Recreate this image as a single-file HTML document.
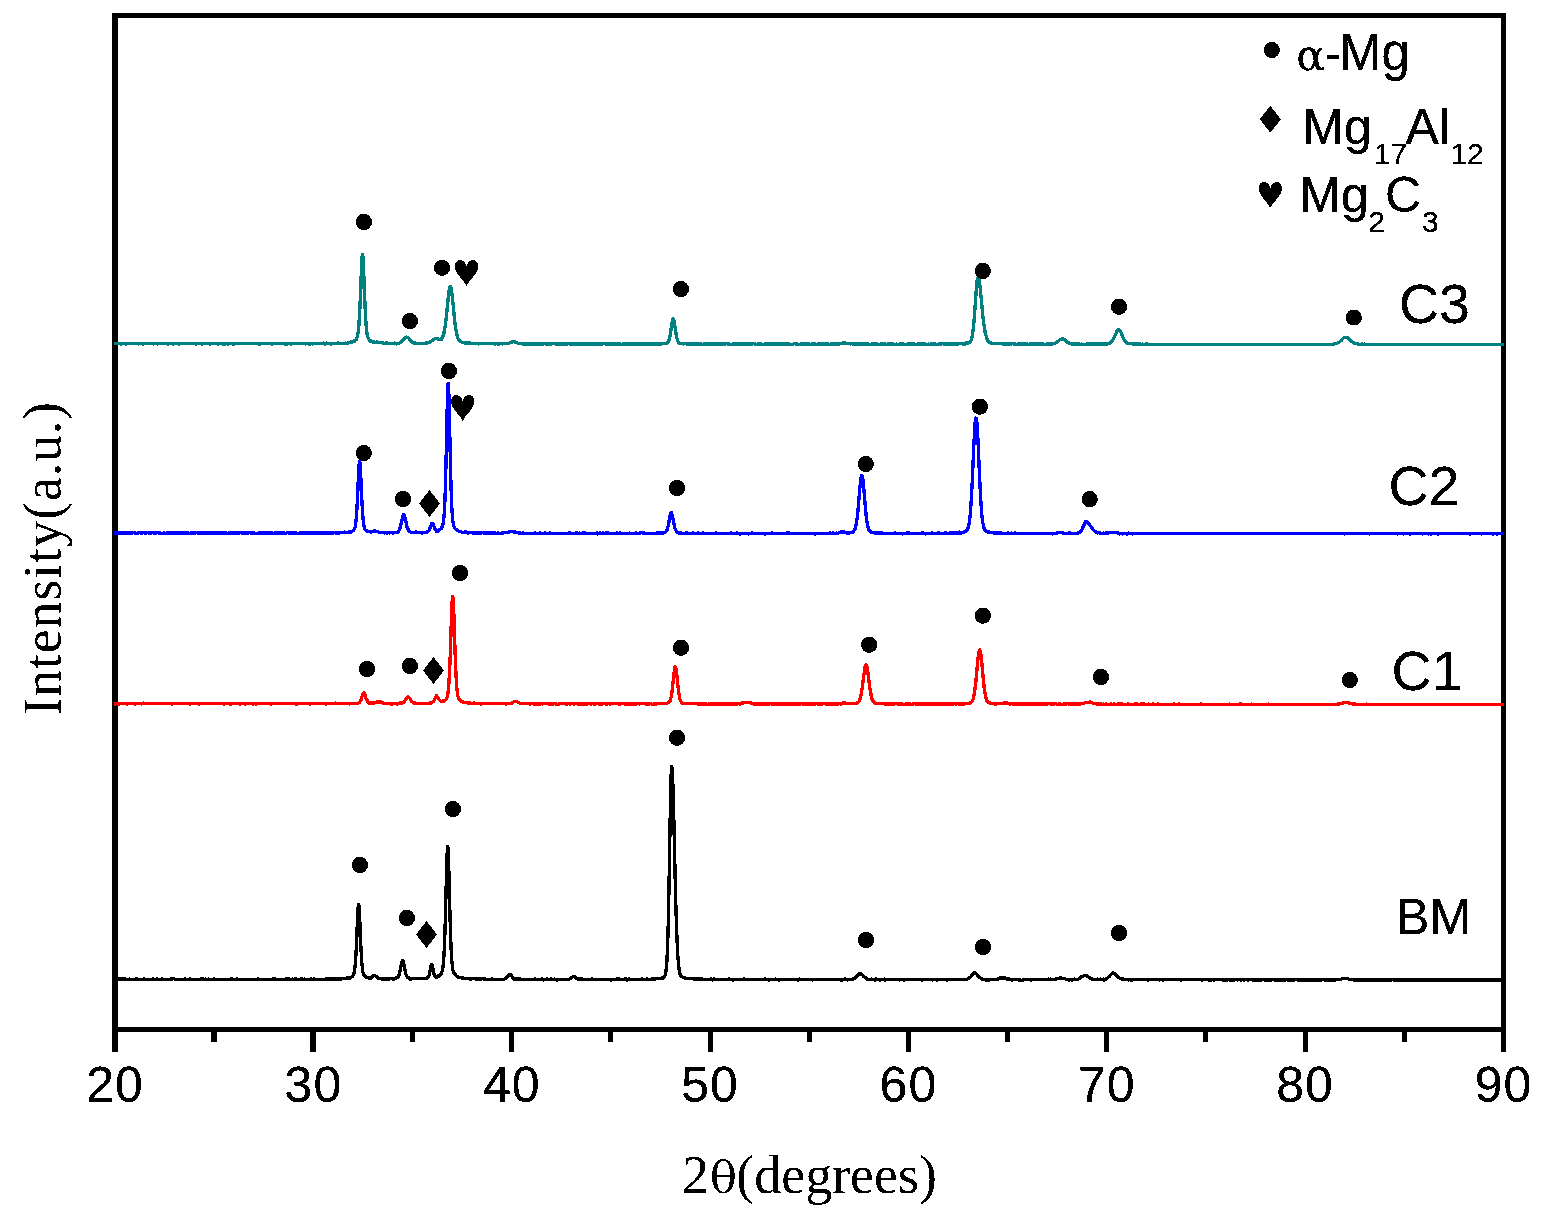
<!DOCTYPE html>
<html lang="en"><head><meta charset="utf-8"><title>XRD patterns</title>
<style>html,body{margin:0;padding:0;background:#fff;overflow:hidden}svg{display:block}.s{font-family:"Liberation Sans",sans-serif;fill:#000}.r{font-family:"Liberation Serif",serif;fill:#000}.g{font-family:"DejaVu Serif","Liberation Serif",serif;fill:#000}</style></head>
<body><svg width="1552" height="1219" viewBox="0 0 1552 1219">
<rect width="1552" height="1219" fill="#fff"/>
<defs><filter id="px" filterUnits="userSpaceOnUse" x="0" y="0" width="1552" height="1219" color-interpolation-filters="sRGB"><feComponentTransfer><feFuncA type="discrete" tableValues="0 1 1"/></feComponentTransfer></filter></defs>
<defs><filter id="px2" filterUnits="userSpaceOnUse" x="0" y="0" width="1552" height="1219" color-interpolation-filters="sRGB"><feComponentTransfer><feFuncA type="discrete" tableValues="0 1"/></feComponentTransfer></filter></defs>
<g fill="#000">
<rect x="112" y="13" width="6" height="1039"/>
<rect x="1501" y="13" width="5" height="1039"/>
<rect x="112" y="13" width="1394" height="5"/>
<rect x="112" y="1027" width="1394" height="5"/>
<rect x="211" y="1030" width="6" height="12"/>
<rect x="310" y="1030" width="6" height="22"/>
<rect x="410" y="1030" width="5" height="12"/>
<rect x="509" y="1030" width="5" height="22"/>
<rect x="608" y="1030" width="5" height="12"/>
<rect x="708" y="1030" width="5" height="22"/>
<rect x="807" y="1030" width="5" height="12"/>
<rect x="906" y="1030" width="5" height="22"/>
<rect x="1005" y="1030" width="5" height="12"/>
<rect x="1104" y="1030" width="5" height="22"/>
<rect x="1203" y="1030" width="5" height="12"/>
<rect x="1303" y="1030" width="5" height="22"/>
<rect x="1402" y="1030" width="5" height="12"/>
</g>
<g fill="none" stroke-width="3.0" stroke-linejoin="round" stroke-linecap="butt" filter="url(#px)">
<path stroke="#000000" d="M114 979L115 979.1L116 979.2L117 979.2L118 979.2L119 979.2L120 978.7L121 979.1L122 979.2L123 979.2L124 978.7L125 979.2L126 979.2L127 979.2L128 979.2L129 979.2L130 979.1L131 979.6L132 979.2L133 979.3L134 979.3L135 979.1L136 979.3L137 978.6L138 979.8L139 979.3L140 979.3L141 979.3L142 979.2L143 979.3L144 978.8L145 979.3L146 979.3L147 979.3L148 979.2L149 979.3L150 979.4L151 979.2L152 979.2L153 978.9L154 979.6L155 979.2L156 979.2L157 978.9L158 979.3L159 979.3L160 979.3L161 979.6L162 978.7L163 979.3L164 979.3L165 979.8L166 979.2L167 979.6L168 979.2L169 979.3L170 979.1L171 978.9L172 979.2L173 978.7L174 978.9L175 979.2L176 979.3L177 979.3L178 979.3L179 979.3L180 979.2L181 979.2L182 979.3L183 979.2L184 979.3L185 978.7L186 979.3L187 979.3L188 979.3L189 979.2L190 979.1L191 979.2L192 979.3L193 979.1L194 979.3L195 979.2L196 979.2L197 979.3L198 979.3L199 979.2L200 979.2L201 979.1L202 978.9L203 978.9L204 979.3L205 979.1L206 979.1L207 979.6L208 979.1L209 979.2L210 979.2L211 979.2L212 979.2L213 979.2L214 978.8L215 979.2L216 979.3L217 979.3L218 979.2L219 979.3L220 979.3L221 979.7L222 979.2L223 979.2L224 979.2L225 979.4L226 979.2L227 979.2L228 979.2L229 979.2L230 979.6L231 978.7L232 978.8L233 979.3L234 979.1L235 979.6L236 979.3L237 978.9L238 979.2L239 979.2L240 979.2L241 979.3L242 979.6L243 979.1L244 979.3L245 979.2L246 979.3L247 979.1L248 979.3L249 979.4L250 979.3L251 979.2L252 979.4L253 979.3L254 979.4L255 979.2L256 979.7L257 979.2L258 978.8L259 979.8L260 979.4L261 979.4L262 979.3L263 979.1L264 979.3L265 979.3L266 979.2L267 979.2L268 979.3L269 979.3L270 979.4L271 979.2L272 979.7L273 978.8L274 979.2L275 978.8L276 979.3L277 979.2L278 979.3L279 979.3L280 979.3L281 979.2L282 979.8L283 979.3L284 979.7L285 979.2L286 979L287 978.8L288 979.2L289 978.7L290 979.3L291 979.2L292 979.8L293 979.1L294 979.3L295 978.7L296 979.2L297 979.3L298 979.4L299 979.2L300 979.3L301 978.7L302 978.9L303 979.6L304 979.1L305 979.7L306 979.3L307 979.8L308 979.3L309 979.3L310 979.2L311 978.9L312 979.2L313 979.3L314 978.9L315 979.2L316 979.3L317 979.5L318 979.7L319 979.2L320 979.2L321 979.2L322 979.2L323 979.3L324 979.2L325 979.2L326 978.6L327 979.2L328 979.1L329 978.9L330 979.1L331 979.2L332 979.1L333 979L334 979.2L335 979.1L336 978.9L337 979.1L338 979L339 979.6L340 979L341 978.9L342 978.9L342.25 978.8L342.5 978.8L342.75 978.8L343 978.4L343.25 978.3L343.5 978.3L343.75 978.3L344 978.8L344.25 978.8L344.5 978.7L344.75 978.7L345 978.6L345.25 978.6L345.5 978.5L345.75 978.5L346 978.4L346.25 978.4L346.5 978.3L346.75 978.3L347 977.9L347.25 977.8L347.5 977.8L347.75 977.7L348 978.2L348.25 978.1L348.5 978.1L348.75 978L349 978.3L349.25 978.2L349.5 978.1L349.75 978.1L350 977.7L350.25 977.6L350.5 977.5L350.75 977.4L351 977.2L351.25 977.1L351.5 976.9L351.75 976.8L352 976.7L352.25 976.5L352.5 976.2L352.75 975.9L353 975.5L353.25 975.1L353.5 974.5L353.75 973.8L354 972.9L354.25 971.8L354.5 970.5L354.75 968.7L355 966.6L355.25 964L355.5 960.9L355.75 957.2L356 953L356.25 948.3L356.5 942.9L356.75 937.2L357 931.3L357.25 925.2L357.5 919.3L357.75 913.9L358 909.4L358.25 906.2L358.5 904.6L358.6 904.4L358.75 904.7L359 906.6L359.25 910.1L359.5 914.8L359.75 920.3L360 926.3L360.25 932.4L360.5 938.4L360.75 944L361 949.3L361.25 953.9L361.5 958.1L361.75 961.6L362 964.7L362.25 967.2L362.5 969.2L362.75 970.8L363 972L363.25 973L363.5 973.9L363.75 974.5L364 975.1L364.25 975.5L364.5 975.9L364.75 976.2L365 976.4L365.25 976.6L365.5 976.8L365.75 976.9L366 977.1L366.25 977.2L366.5 977.3L366.75 977.4L367 977.5L367.25 977.6L367.5 977.6L367.75 977.7L368 977.7L368.25 977.8L368.5 977.8L368.75 977.9L369 978.5L369.25 978.5L369.5 978.5L369.75 978.5L370 978.2L370.25 978.2L370.5 978.1L370.75 978L371 977.5L371.25 977.4L371.5 977.2L371.75 977.1L372 977L372.25 976.8L372.5 976.6L372.75 976.4L373 976L373.25 975.8L373.5 975.6L373.75 975.4L374 975.4L374.25 975.4L374.5 975.3L374.6 975.3L374.75 975.3L375 975.6L376 976.1L377 977.5L378 977.5L379 978.9L380 978.7L381 978.9L382 978.9L383 978.8L384 978.9L384.25 978.9L384.75 978.9L385 979.5L385.25 979.5L385.75 979.5L386 978.9L386.25 978.9L386.75 978.9L387 978.9L387.25 978.9L387.75 978.9L388 979L388.25 979L388.75 979L389 978.8L389.25 978.8L389.75 978.8L390 978.4L390.25 978.4L390.75 978.4L391 978.8L391.25 978.7L391.75 978.7L392 978.3L392.25 978.3L392.75 978.3L393 979.2L393.25 979.1L393.75 979.1L394 978.7L394.25 978.7L394.75 978.6L395 977.9L395.25 977.9L395.75 977.8L396 977.8L396.25 977.7L396.75 977.5L397 977.9L397.25 977.8L397.75 977.3L398 977L398.25 976.6L398.75 975.6L399 975L399.25 974.2L399.75 972.3L400 971.2L400.25 970L400.75 967.4L401 966L401.25 964.6L401.75 962.2L402 961.3L402.25 960.6L402.6 960.3L402.75 960.3L403 960.7L403.25 961.4L403.75 963.5L404 964.9L404.25 966.3L404.75 969L405 970.1L405.25 971.3L405.75 973.4L406 974.2L406.25 975L406.75 976.1L407 976.7L407.25 977.1L407.75 977.6L408 977.7L408.25 977.8L408.75 978L409 978.5L409.25 978.6L409.75 978.7L410 979L410.25 979L410.75 979.1L411 978.6L411.25 978.6L411.75 978.7L412 978.7L412.25 978.7L412.75 978.8L413 978.7L413.25 978.7L413.75 978.7L414 978.7L414.25 978.7L414.75 978.7L415 978.7L415.25 978.7L415.75 978.7L416 978.8L416.25 978.8L416.75 978.8L417 978.8L417.25 978.8L417.75 978.8L418 978.8L418.25 978.8L418.5 978.8L418.75 978.8L419 978.7L419.25 978.7L419.5 978.7L419.75 978.7L420 978.8L420.25 978.8L420.5 978.8L420.75 978.8L421 978.7L421.5 978.6L422 978.8L422.5 978.7L423 978.6L423.5 978.6L424 978.5L424.5 978.5L425 978.7L425.5 978.7L426 978.2L426.5 978.1L427 978L427.5 977.8L428 977.2L428.5 976.5L429 975.5L429.5 973.8L430 970.9L430.25 969.5L430.5 968.1L430.75 966.8L431 966.1L431.25 965.1L431.5 964.4L431.7 964.3L431.75 964.3L432 964.6L432.25 965.3L432.5 966.4L432.75 967.7L433 968.9L433.25 970.3L433.5 971.5L433.75 972.6L434 973.7L434.25 974.5L434.5 975.2L434.75 975.7L435 975.9L435.25 976.2L435.5 976.4L435.75 976.5L436 977.2L436.25 977.2L436.5 977.2L436.75 977.2L437 976.2L437.25 976.2L437.5 976.1L437.75 976.1L438 976.7L438.25 976.6L438.5 976.4L438.75 976.3L439 975.9L439.25 975.8L439.5 975.6L439.75 975.4L440 975.2L440.25 974.9L440.5 974.6L440.75 974.3L441 973.9L441.25 973.4L441.5 972.9L441.75 972.3L442 971.6L442.25 970.7L442.5 969.6L442.75 968.2L443 966.2L443.25 964L443.5 961.3L443.75 958L444 954.1L444.25 949.3L444.5 943.7L444.75 937.3L445 929.8L445.25 921.6L445.5 912.6L445.75 903L446 893.1L446.25 883L446.5 873.2L446.75 864.1L447 856.5L447.25 850.6L447.5 847L447.7 846.2L447.75 846.2L448 848.1L448.25 852.6L448.5 859.3L448.75 867.6L449 877.2L449.25 887.1L449.5 897.2L449.75 907.1L450 916.3L450.25 925L450.5 932.9L450.75 939.9L451 946.2L451.25 951.5L451.5 955.9L451.75 959.6L452 962.6L452.25 965.1L452.5 967.1L452.75 968.7L453 970.1L453.25 971.1L453.5 972L453.75 972.7L454 973.2L454.25 973.7L454.5 974.1L454.75 974.5L455 974.3L455.25 974.5L455.5 974.8L455.75 975L456 975.9L456.25 976L456.5 976.2L456.75 976.4L457 976.6L457.25 976.7L457.5 976.8L457.75 976.9L458 977L458.25 977.1L458.5 977.2L458.75 977.3L459 977.4L459.25 977.5L459.5 977.6L459.75 977.6L460 977.2L460.25 977.2L460.5 977.3L460.75 977.3L461 977.4L461.25 977.5L461.5 977.5L461.75 977.6L462 978.7L462.25 978.7L462.5 978.8L462.75 978.8L463 977.9L463.25 978L463.5 978L463.75 978L464 978.3L464.25 978.3L464.5 978.4L464.75 978.4L465 978.5L466 978.5L467 978.7L468 978.8L469 978.8L470 978.9L471 978.8L472 978.9L473 978.6L474 978.5L475 978.9L476 979L477 979.1L478 979.1L479 979.1L480 979.2L481 979L482 978.6L483 978.7L484 979.2L485 978.9L486 979.3L487 979.2L488 979.2L489 979.3L490 979.3L491 979.1L492 979.2L493 979.1L494 979.6L495 979.3L496 979.3L497 979.4L498 979.3L499 979.3L500 979.2L501 979.8L502 979.3L503 979.3L504 979.2L505 978.9L506 978L507 977.6L508 976.2L509 974.8L509.8 974.3L510 974.4L511 975.1L512 976.8L513 978.1L514 979.4L515 979.1L516 979.2L517 978.8L518 978.9L519 979.4L520 979L521 979.2L522 979.3L523 979.3L524 979.4L525 979.8L526 979.4L527 979.4L528 979.3L529 979.4L530 979.6L531 979.4L532 979.4L533 979.4L534 979.4L535 979L536 979.4L537 979.4L538 979.3L539 979.4L540 979.3L541 979.2L542 978.9L543 979.9L544 979.3L545 979.5L546 979.5L547 978.9L548 979.5L549 979.5L550 979.4L551 979L552 979.4L553 979.5L554 979L555 979.4L556 979.2L557 979.9L558 979.4L559 979.4L560 979.7L561 979.4L562 979.4L563 979.5L564 979.4L565 979.3L566 979.8L567 979.4L568 979.3L569 979.1L570 978.9L571 978.1L572 977.2L573 976.4L573.7 976.2L574 976.2L575 977L576 978.4L577 978.7L578 979L579 978.7L580 979.5L581 979.2L582 978.9L583 979.5L584 979.4L585 979.5L586 979.4L587 979.5L588 979.5L589 979.1L590 979.5L591 979.5L592 978.9L593 979.1L594 979.5L595 979.4L596 979.4L597 979.4L598 979.3L599 979.4L600 979.4L601 979.5L602 979.5L603 979.6L604 979.5L605 979.6L606 979.1L607 979.5L608 979.4L609 979.5L610 979.3L611 979.9L612 979.8L613 979.4L614 979.5L615 979.4L616 979.6L617 978.8L618 979.4L619 979L620 979L621 979.9L622 979.5L623 979.5L624 979L625 979.6L626 978.8L627 980L628 979.6L629 978.9L630 979.4L631 979.3L632 979.3L633 979.5L634 979.3L635 979.4L636 979.7L637 979.5L638 979.4L639 979.2L640 979.4L641 979.4L642 978.9L643 979.3L644 979.8L645 979.3L646 979.3L647 978.8L648 979.2L648.5 979.2L648.75 979.2L649 979.2L649.25 979.2L649.5 979.2L649.75 979.2L650 979.2L650.25 979.2L650.5 979.2L650.75 979.2L651 979.7L651.25 979.7L651.5 979.7L651.75 979.7L652 979.1L652.25 979.1L652.5 979.1L652.75 979.1L653 979L653.25 978.9L653.5 978.9L653.75 978.9L654 979L654.25 978.9L654.5 978.9L654.75 978.9L655 979L655.25 978.9L655.5 978.9L655.75 978.9L656 978.8L656.25 978.8L656.5 978.8L656.75 978.8L657 978.7L657.25 978.7L657.5 978.7L657.75 978.7L658 978.6L658.25 978.6L658.5 978.5L658.75 978.5L659 978.6L659.25 978.6L659.5 978.5L659.75 978.5L660 978.5L660.25 978.5L660.5 978.4L660.75 978.4L661 978.3L661.25 978.3L661.5 978.2L661.75 978.1L662 978.4L662.25 978.3L662.5 978.2L662.75 978.1L663 977.7L663.25 977.5L663.5 977.4L663.75 977.2L664 976.9L664.25 976.7L664.5 976.3L664.75 975.9L665 975.8L665.25 975.1L665.5 974.1L665.75 972.9L666 971L666.25 969L666.5 966.4L666.75 963.1L667 958.9L667.25 953.9L667.5 947.9L667.75 940.7L668 932.3L668.25 922.6L668.5 911.7L668.75 899.5L669 885.9L669.25 871.7L669.5 857L669.75 841.9L670 827L670.25 812.7L670.5 799.4L670.75 787.8L671 778.6L671.25 771.6L671.5 767.5L671.7 766.5L671.75 766.5L672 767.8L672.25 770.7L672.5 775.2L672.75 781.3L673 788.6L673.25 797.1L673.5 806.6L673.75 816.7L674 827.5L674.25 838.5L674.5 849.6L674.75 860.7L675 871.5L675.25 882.1L675.5 892.2L675.75 901.8L676 910.6L676.25 918.9L676.5 926.5L676.75 933.4L677 939.6L677.25 945.2L677.5 950.1L677.75 954.3L678 958.2L678.25 961.4L678.5 964.1L678.75 966.4L679 968.3L679.25 969.9L679.5 971.3L679.75 972.4L680 973.8L680.25 974.6L680.5 975.2L680.75 975.7L681 975.8L681.25 976.1L681.5 976.4L681.75 976.7L682 976.8L682.25 976.9L682.5 977.1L682.75 977.2L683 977.4L683.25 977.5L683.5 977.6L683.75 977.7L684 977.7L684.25 977.7L684.5 977.8L684.75 977.9L685 978L685.25 978.1L685.5 978.2L685.75 978.2L686 978.3L686.25 978.3L686.5 978.4L686.75 978.4L687 978.4L687.25 978.5L687.5 978.5L687.75 978.5L688 978.5L688.25 978.5L688.5 978.6L688.75 978.6L689 978.5L689.25 978.5L689.5 978.5L689.75 978.6L690 978.7L690.25 978.7L690.5 978.7L690.75 978.8L691 978.8L691.25 978.8L691.5 978.8L691.75 978.8L692 978.5L692.25 978.5L692.5 978.5L692.75 978.6L693 978.9L693.25 978.9L693.5 978.9L693.75 978.9L694 979L694.25 979L694.5 979L694.75 979L695 978.9L696 979.6L697 979.1L698 979.1L699 979.1L700 979.1L701 979.2L702 978.8L703 979.3L704 979.3L705 979.4L706 979.3L707 979.8L708 979.3L709 979.7L710 979.3L711 978.8L712 979.4L713 979.9L714 978.9L715 979.5L716 979.5L717 979.4L718 979.7L719 979.5L720 979.4L721 979.8L722 979.4L723 979.4L724 979.4L725 979.5L726 979.4L727 979.4L728 979.6L729 978.9L730 979.4L731 979.6L732 979.5L733 980L734 979.5L735 979.5L736 979.4L737 979.6L738 979.5L739 979.5L740 979.4L741 979.4L742 979.5L743 979.4L744 979L745 979.6L746 979.5L747 979.5L748 979.5L749 979.6L750 979.5L751 979.5L752 979.5L753 979.5L754 979.5L755 979.4L756 979.1L757 979.5L758 979.4L759 979.6L760 979.6L761 979.5L762 979.6L763 979.5L764 979.6L765 979L766 979.6L767 979.4L768 979.4L769 980.1L770 980L771 979.5L772 979.5L773 979.7L774 979.6L775 979.1L776 979.7L777 979.5L778 979.5L779 980L780 979.4L781 979.4L782 979.6L783 979.4L784 979.6L785 979.7L786 979.6L787 979.6L788 979.6L789 979.6L790 979.4L791 979.7L792 979.6L793 979.6L794 979.5L795 979.5L796 979.6L797 979.6L798 980.1L799 979L800 979.7L801 979.5L802 979.2L803 979.6L804 979.6L805 979.2L806 979.6L807 979.6L808 979.6L809 979.6L810 979.6L811 979.7L812 979.6L813 980L814 979.5L815 979.7L816 979.6L817 979.6L818 979.1L819 979.6L820 979.9L821 979.6L822 979.6L823 979.6L824 979.6L825 979.6L826 979.7L827 979.6L828 979.4L829 979.5L830 979.7L830.5 979.7L831 979.2L831.5 979.2L832 979.5L832.5 979.5L833 979.7L833.5 979.7L834 979.5L834.5 979.5L835 979.5L835.5 979.5L836 979.6L836.5 979.6L837 979.6L837.5 979.6L838 979.6L838.5 979.6L839 979.7L839.5 979.7L840 979.6L840.5 979.6L841 979.9L841.5 979.9L842 980L842.5 980L843 979.6L843.5 979.6L844 979.4L844.5 979.4L845 979.1L845.5 979.1L846 979.5L846.5 979.5L847 979.9L847.5 979.9L848 979.5L848.5 979.5L849 979.5L849.5 979.5L850 979.8L850.5 979.7L851 979.5L851.5 979.4L852 979.1L852.5 979L853 979.1L853.5 978.9L854 978.5L854.5 978.2L855 977.9L855.5 977.5L856 977L856.5 976.4L857 975.8L857.5 975.3L858 974.7L858.5 974.2L859 974L859.5 973.7L860 973.6L860.1 973.6L860.5 973.7L861 973.7L861.5 974L862 974.6L862.5 975.1L863 975.6L863.5 976.2L864 976.7L864.5 977.2L865 977.6L865.5 978L866 977.8L866.5 978.1L867 979.3L867.5 979.4L868 979.2L868.5 979.3L869 979.4L869.5 979.4L870 979.5L870.5 979.5L871 979L871.5 979L872 979.5L872.5 979.6L873 979.6L873.5 979.6L874 979.6L874.5 979.6L875 980.2L875.5 980.2L876 979.1L876.5 979.1L877 979.6L877.5 979.6L878 979.5L878.5 979.5L879 979.6L879.5 979.6L880 980.2L880.5 980.2L881 979.7L881.5 979.7L882 979.6L882.5 979.6L883 979.7L883.5 979.7L884 979.1L884.5 979.1L885 980L885.5 980L886 979.6L886.5 979.6L887 979.7L887.5 979.7L888 979.6L888.5 979.6L889 979.6L889.5 979.6L890 979.6L891 979.6L892 979.6L893 979.5L894 979.8L895 979.7L896 979.6L897 979.7L898 979.5L899 979.3L900 979.9L901 979.6L902 979.7L903 979.7L904 980.2L905 979.6L906 979.2L907 979.7L908 979.6L909 979.7L910 979.6L911 979.6L912 979.6L913 979.7L914 979.6L915 979.6L916 979.7L917 979.7L918 979.7L919 979.7L920 979.6L921 979.7L922 980.1L923 979.7L924 979.2L925 979.3L926 979.6L927 979.7L928 979.8L929 979.2L930 979.5L931 979.6L932 979.8L933 979.9L934 979.6L935 979.6L936 979.6L937 980.2L938 979.7L939 979.6L940 979.7L941 979.4L942 979.6L943 979.7L944 979.5L944.75 979.5L945 979.5L945.25 979.5L945.75 979.5L946 979.7L946.25 979.7L946.75 979.7L947 980.2L947.25 980.2L947.75 980.2L948 979.7L948.25 979.7L948.75 979.7L949 979.6L949.25 979.6L949.75 979.6L950 979.6L950.25 979.6L950.75 979.6L951 979.6L951.25 979.6L951.75 979.6L952 979.6L952.25 979.6L952.75 979.6L953 979.6L953.25 979.6L953.75 979.6L954 979.2L954.25 979.2L954.75 979.2L955 979.6L955.25 979.6L955.75 979.6L956 979.7L956.25 979.7L956.75 979.7L957 979.7L957.25 979.7L957.75 979.7L958 979.2L958.25 979.2L958.75 979.2L959 979.6L959.25 979.6L959.75 979.6L960 979.3L960.25 979.3L960.75 979.2L961 979.6L961.25 979.6L961.75 979.6L962 979.7L962.25 979.7L962.75 979.6L963 979.6L963.25 979.6L963.75 979.6L964 979.6L964.25 979.6L964.75 979.6L965 979.5L965.25 979.5L965.75 979.5L966 979.4L966.25 979.4L966.75 979.3L967 979.1L967.25 979L967.75 978.8L968 978.7L968.25 978.6L968.75 978.3L969 978.1L969.25 977.9L969.75 977.5L970 977.3L970.25 977L970.75 976.5L971 976.2L971.25 975.9L971.75 975.3L972 975L972.25 974.7L972.75 974.2L973 973.7L973.25 973.5L973.75 973.1L974 972.6L974.25 972.5L974.7 972.4L974.75 972.4L975 973L975.25 973.1L975.75 973.4L976 973.4L976.25 973.7L976.75 974.2L977 974.6L977.25 974.9L977.75 975.5L978 975.7L978.25 976L978.75 976.6L979 977L979.25 977.2L979.75 977.7L980 977.8L980.25 978L980.75 978.3L981 978.2L981.25 978.3L981.75 978.6L982 979L982.25 979.1L982.75 979.3L983 979.3L983.25 979.4L983.75 979.4L984 979.3L984.25 979.3L984.75 979.4L985 979.9L985.25 980L985.75 980L986 979.5L986.25 979.6L986.75 979.6L987 980L987.25 980.1L987.75 980.1L988 980.2L988.25 980.2L988.75 980.2L989 979.5L989.25 979.5L989.75 979.5L990 979.6L990.25 979.6L990.75 979.6L991 979.7L991.25 979.7L991.75 979.7L992 979.6L992.25 979.6L992.75 979.6L993 979.7L993.25 979.7L993.75 979.7L994 979.6L994.25 979.6L994.75 979.6L995 979.5L995.25 979.5L995.75 979.5L996 979.4L996.25 979.4L996.75 979.3L997 979.2L997.25 979.2L997.75 979L998 979L998.25 979L998.75 978.8L999 978.2L999.25 978.2L999.75 978L1000 978.6L1000.25 978.5L1000.75 978.4L1001 978.3L1001.25 978.2L1001.75 978.1L1002 977.9L1002.25 977.8L1002.75 977.8L1003 978.2L1003.25 978.2L1003.75 978.3L1004 977.8L1004.25 977.9L1004.75 978L1005 978.2L1006 978L1007 979.2L1008 979.2L1009 978.9L1010 979.4L1011 979.5L1012 980.2L1013 979.7L1014 979.7L1015 979.7L1016 979.7L1017 979.6L1018 979.8L1019 980.2L1020 979.8L1021 980.1L1022 980.3L1023 980.1L1024 979.6L1025 979.2L1026 979.8L1027 979.2L1028 979.7L1029 979.6L1030 979.6L1031 980.1L1032 979.7L1033 979.7L1034 979.8L1035 979.8L1036 979.8L1037 979.6L1038 979.7L1039 979.8L1040 979.7L1041 979.7L1042 979.7L1043 979.8L1044 979.7L1045 979.7L1046 979.7L1047 979.7L1048 979.7L1049 979.1L1050 979.7L1051 979.1L1052 979.6L1053 979.4L1054 979.5L1055 979.3L1056 978.9L1057 978.8L1058 978.4L1059 978.1L1060 978L1060.5 978L1061 978L1062 978.2L1063 978.4L1064 978.8L1065 978.8L1066 979.2L1067 979.5L1068 979.4L1069 980.1L1070 979.5L1071 979.6L1072 980.1L1073 979.6L1074 979.2L1075 979.1L1076 979.6L1077 979.3L1078 979.1L1079 979L1080 977.9L1081 977.1L1081.5 976.8L1082 976.6L1082.5 976.3L1083 976.3L1083.5 976L1084 975.4L1084.5 975.3L1085 975.2L1085.5 975.2L1086 975.7L1086.5 975.9L1087 975.9L1087.5 976.2L1088 976.7L1088.5 977L1089 977.3L1089.5 977.7L1090 978.5L1090.5 978.8L1091 978.6L1091.5 978.9L1092 978.9L1092.5 979L1093 979.3L1093.5 979.4L1094 979.4L1094.5 979.4L1095 979.4L1095.5 979.4L1096 979.5L1096.5 979.5L1097 979L1097.5 979L1098 979.2L1098.5 979.2L1099 979.7L1099.5 979.7L1100 979.1L1100.5 979.1L1101 979.6L1101.5 979.6L1102 979.6L1102.5 979.5L1103 978.9L1103.5 978.9L1104 980L1104.5 979.9L1105 979.1L1105.5 979L1106 979L1106.5 978.7L1107 978.5L1107.5 978.2L1108 977.7L1108.5 977.3L1109 976.8L1109.5 976.3L1110 975.7L1110.5 975.2L1111 974.7L1111.5 974.1L1112 973.3L1112.5 972.9L1113 973.1L1113.5 973L1114 973.5L1114.5 973.8L1115 973.8L1115.5 974.3L1116 974.7L1116.5 975.3L1117 976.3L1117.5 976.9L1118 976.4L1118.5 976.9L1119 977.8L1119.5 978.2L1120 978.1L1120.5 978.3L1121 978.6L1121.5 978.7L1122 979.5L1122.5 979.6L1123 979.3L1123.5 979.4L1124 979.1L1124.5 979.2L1125 979.6L1125.5 979.6L1126 979.7L1126.5 979.7L1127 979.5L1127.5 979.5L1128 980L1128.5 980L1129 979.7L1129.5 979.7L1130 979.7L1130.5 979.7L1131 980.3L1131.5 980.3L1132 979.7L1132.5 979.7L1133 979.8L1133.5 979.8L1134 979.7L1134.5 979.7L1135 979.7L1135.5 979.8L1136 979.8L1136.5 979.8L1137 979.7L1137.5 979.7L1138 979.6L1138.5 979.6L1139 979.8L1139.5 979.8L1140 979.8L1140.5 979.8L1141 979.2L1141.5 979.2L1142 979.8L1142.5 979.8L1143 979.8L1143.5 979.8L1144 979.6L1144.5 979.6L1145 979.7L1145.5 979.7L1146 979.8L1147 979.8L1148 980.4L1149 979.8L1150 979.8L1151 979.8L1152 979.8L1153 979.7L1154 979.8L1155 979.6L1156 979.8L1157 979.8L1158 979.7L1159 979.8L1160 979.9L1161 979.7L1162 979.8L1163 980L1164 979.8L1165 979.8L1166 979.8L1167 979.8L1168 979.8L1169 979.8L1170 979.8L1171 979.8L1172 979.8L1173 979.8L1174 979.8L1175 979.8L1176 979.8L1177 979.8L1178 979.8L1179 979.8L1180 979.8L1181 980L1182 979.8L1183 979.8L1184 979.8L1185 979.8L1186 979.6L1187 979.8L1188 979.8L1189 979.8L1190 979.8L1191 979.8L1192 979.8L1193 979.8L1194 979.8L1195 979.8L1196 979.7L1197 979.8L1198 979.8L1199 979.8L1200 979.8L1201 979.8L1202 979.9L1203 979.8L1204 979.8L1205 979.8L1206 979.8L1207 979.8L1208 979.8L1209 980L1210 979.8L1211 979.9L1212 979.8L1213 979.8L1214 980L1215 979.8L1216 979.8L1217 979.8L1218 979.8L1219 979.7L1220 979.8L1221 979.7L1222 979.9L1223 979.8L1224 979.9L1225 979.8L1226 979.9L1227 979.9L1228 979.8L1229 979.8L1230 979.9L1231 979.9L1232 979.9L1233 979.8L1234 980L1235 979.8L1236 979.7L1237 979.9L1238 979.8L1239 979.7L1240 979.9L1241 979.9L1242 979.8L1243 979.8L1244 979.9L1245 979.8L1246 979.7L1247 979.9L1248 979.9L1249 979.8L1250 979.8L1251 979.8L1252 979.8L1253 979.9L1254 979.9L1255 979.9L1256 979.9L1257 979.8L1258 979.9L1259 979.9L1260 979.8L1261 979.9L1262 979.9L1263 979.7L1264 979.8L1265 979.9L1266 979.9L1267 979.9L1268 979.9L1269 979.8L1270 979.9L1271 979.9L1272 979.9L1273 979.7L1274 979.8L1275 979.9L1276 979.9L1277 979.9L1278 979.9L1279 979.8L1280 979.9L1281 979.8L1282 979.9L1283 979.8L1284 979.9L1285 979.9L1286 979.8L1287 979.8L1288 979.9L1289 979.8L1290 979.9L1291 979.9L1292 979.9L1293 979.9L1294 979.9L1295 979.9L1296 979.7L1297 979.9L1298 979.9L1299 979.9L1300 979.9L1301 979.9L1302 979.8L1303 980L1304 979.9L1305 980L1306 979.9L1307 979.9L1308 979.9L1309 979.9L1310 979.8L1311 979.9L1312 979.9L1313 979.9L1314 979.9L1315 979.9L1316 979.9L1317 979.9L1318 980L1319 979.9L1320 979.9L1321 979.9L1322 979.8L1323 979.7L1324 979.9L1325 980.1L1326 980L1327 979.9L1328 979.9L1329 979.9L1330 979.9L1331 979.9L1332 979.9L1333 979.9L1334 980L1335 979.9L1336 979.8L1337 979.8L1338 979.7L1339 979.6L1340 979.4L1341 979.3L1342 978.7L1343 978.7L1344 978.5L1345 978.4L1346 978.5L1347 978.7L1348 978.9L1349 979.2L1350 979.5L1351 979.6L1352 979.7L1353 979.9L1354 980L1355 979.9L1356 979.9L1357 979.9L1358 979.9L1359 979.9L1360 979.9L1361 979.9L1362 979.9L1363 979.9L1364 979.9L1365 979.9L1366 979.9L1367 979.8L1368 979.9L1369 980.1L1370 979.9L1371 979.9L1372 980L1373 979.9L1374 979.8L1375 979.9L1376 980.1L1377 979.9L1378 979.8L1379 980.1L1380 979.9L1381 979.9L1382 979.9L1383 979.9L1384 979.8L1385 980.1L1386 980L1387 979.9L1388 979.8L1389 979.9L1390 979.9L1391 979.9L1392 979.8L1393 979.8L1394 979.9L1395 979.9L1396 979.9L1397 980L1398 979.9L1399 979.9L1400 979.8L1401 979.9L1402 979.9L1403 979.9L1404 979.9L1405 979.9L1406 979.9L1407 980L1408 979.9L1409 980L1410 980.1L1411 980L1412 979.9L1413 980L1414 980.1L1415 980L1416 979.9L1417 979.8L1418 979.9L1419 979.9L1420 979.9L1421 979.8L1422 979.9L1423 980.1L1424 979.9L1425 979.8L1426 980L1427 980L1428 980.1L1429 980L1430 979.8L1431 980.1L1432 979.9L1433 980L1434 979.9L1435 980L1436 980L1437 980L1438 980L1439 980L1440 979.9L1441 980L1442 980L1443 980L1444 980L1445 980L1446 980L1447 979.8L1448 980L1449 980L1450 980.1L1451 979.9L1452 979.9L1453 980L1454 979.9L1455 980L1456 980L1457 980L1458 980.1L1459 980L1460 980L1461 980L1462 979.9L1463 980L1464 980.1L1465 979.8L1466 980L1467 980L1468 980L1469 980L1470 980L1471 980L1472 980L1473 980L1474 979.9L1475 980L1476 980L1477 979.8L1478 980L1479 980.2L1480 979.8L1481 980.1L1482 980L1483 980L1484 980L1485 979.9L1486 980L1487 980L1488 980.2L1489 980L1490 980L1491 980L1492 980L1493 980L1494 980L1495 980.1L1496 980L1497 980L1498 979.9L1499 980L1500 980L1501 980.2L1502 980L1503 980L1504 979.9"/>
<path stroke="#ff0000" d="M114 703.7L115 704L116 703.6L117 703.2L118 704.2L119 704L120 703.6L121 703.1L122 703.5L123 703.7L124 703.6L125 703.5L126 703.6L127 704L128 703.6L129 703.1L130 703.5L131 703.6L132 703.6L133 703.7L134 703.6L135 704.1L136 703.6L137 703.1L138 703.6L139 703.5L140 703.6L141 703.7L142 704L143 703.1L144 703.8L145 703.7L146 703.6L147 703.5L148 703.8L149 703.2L150 703.6L151 703.5L152 703.1L153 703.6L154 703.2L155 703.7L156 703.7L157 703.5L158 703.6L159 703.5L160 703.6L161 703.7L162 703.5L163 703.2L164 703.6L165 703.6L166 703.3L167 703.8L168 703.5L169 703.9L170 703.7L171 703.5L172 704.2L173 703.7L174 703.6L175 703.7L176 703.7L177 703.7L178 703.6L179 703.7L180 703.7L181 703.6L182 703.5L183 703.7L184 703.7L185 703.7L186 703.6L187 703.5L188 703.5L189 703.7L190 704L191 703.7L192 703.7L193 703.6L194 703.8L195 703.6L196 703.6L197 703.6L198 703.7L199 704.1L200 703.7L201 703.6L202 703.7L203 703.7L204 703.7L205 703.7L206 703.7L207 703.6L208 703.2L209 703.6L210 703.3L211 703.7L212 703.6L213 703.6L214 703.6L215 703.7L216 703.6L217 703.8L218 703.7L219 703.7L220 703.7L221 703.7L222 703.6L223 703.6L224 704.2L225 703.8L226 703.8L227 703.7L228 703.7L229 703.6L230 704.2L231 704.3L232 703.7L233 703.8L234 703.7L235 703.7L236 703.7L237 703.7L238 703.6L239 703.7L240 704.1L241 703.2L242 703.8L243 703.7L244 703.2L245 704.2L246 703.6L247 703.5L248 703.7L249 703.6L250 703.8L251 703.7L252 703.2L253 704.3L254 703.1L255 703.6L256 704.3L257 703.6L258 703.7L259 703.6L260 703.2L261 703.2L262 703.6L263 703.7L264 703.8L265 703.8L266 703.7L267 703.3L268 703.6L269 703.8L270 703.6L271 704.1L272 703.8L273 703.3L274 703.7L275 703.2L276 703.6L277 703.7L278 703.6L279 703.8L280 703.6L281 703.6L282 703.6L283 703.7L284 703.7L285 703.7L286 703.8L287 703.7L288 703.7L289 703.6L290 703.7L291 703.8L292 703.7L293 703.7L294 703.6L295 703.7L296 704.1L297 704.1L298 703.6L299 703.7L300 703.7L301 703.7L302 703.7L303 703.7L304 703.7L305 703.8L306 703.8L307 703.7L308 703.6L309 703.7L310 704.2L311 703.6L312 703.6L313 703.6L314 703.7L315 703.6L316 703.7L317 703.7L318 703.8L319 703.7L320 703.7L321 703.6L322 703.8L323 703.8L324 703.6L325 703.8L326 704.1L327 703.8L328 703.7L329 703.8L330 703.8L331 703.6L332 703.8L333 703.8L334 703.7L335 703.7L336 703.1L337 703.7L338 703.4L339 703.6L340 703.8L341 703.7L342 703.6L343 703.8L344 703.6L345 703.7L345.75 703.7L346 703.5L346.25 703.5L346.75 703.5L347 703.7L347.25 703.7L347.75 703.7L348 703.6L348.25 703.6L348.75 703.6L349 703.9L349.25 703.9L349.75 703.9L350 703.6L350.25 703.6L350.75 703.6L351 703.5L351.25 703.5L351.75 703.5L352 703.7L352.25 703.7L352.75 703.6L353 703.7L353.25 703.6L353.75 703.6L354 703.6L354.25 703.5L354.75 703.5L355 703.5L355.25 703.4L355.75 703.4L356 703.5L356.25 703.4L356.75 703.4L357 703.4L357.25 703.3L357.75 703.2L358 703L358.25 703L358.75 702.8L359 702.8L359.25 702.6L359.75 702.1L360 701.8L360.25 701.4L360.75 700.4L361 699.8L361.25 699.1L361.75 697.6L362 696.7L362.25 695.8L362.75 694.3L363 693.5L363.25 693L363.75 692.5L363.8 692.5L364 692.6L364.25 692.9L364.75 693.9L365 694.2L365.25 695L365.75 696.7L366 698.1L366.25 698.9L366.75 700.2L367 700.1L367.25 700.6L367.75 701.4L368 702.3L368.25 702.5L368.75 702.9L369 703.1L369.25 703.2L369.75 703.3L370 703.2L370.25 703.2L370.75 703.3L371 702.8L371.25 702.8L371.75 702.7L372 703.8L372.25 703.7L372.75 703.7L373 703.2L373.25 703.1L373.75 703L374 703L374.25 702.9L374.75 702.8L375 702.6L375.25 702.5L375.75 702.4L376 702.2L376.25 702.1L376.75 702L377 701.9L377.25 701.8L377.75 701.7L378 702L378.25 702L378.75 702L379 702L379.25 702L379.75 702L380 701.9L380.25 702L380.75 702.1L381 702.2L381.25 702.3L381.75 702.4L382 702L383 703.3L384 703.1L385 703.3L386 703.4L386.5 703.5L387 703.5L387.5 703.5L388 703.5L388.5 703.5L389 703.6L389.5 703.6L390 703.6L390.5 703.6L391 704.2L391.5 704.2L392 703.5L392.5 703.5L393 703.7L393.5 703.7L394 703.6L394.5 703.6L395 703.6L395.5 703.6L396 703.6L396.5 703.6L397 704L397.5 704L398 703.5L398.5 703.5L399 702.9L399.5 702.9L400 703L400.5 703L401 702.9L401.5 702.8L402 703L402.5 702.8L403 702.9L403.5 702.5L404 702L404.5 701.5L405 700.7L405.5 699.9L406 699.1L406.5 698.3L407 697.4L407.5 696.8L408 696.8L408.1 696.7L408.5 696.9L409 697.3L409.5 697.9L410 698.2L410.5 699L411 700.9L411.5 701.6L412 701.7L412.5 702.2L413 702.6L413.5 702.9L414 702.5L414.5 702.6L415 703.4L415.5 703.4L416 703.4L416.5 703.4L417 703.4L417.5 703.4L418 703.8L418.5 703.8L418.75 703.8L419 703.4L419.25 703.4L419.5 703.4L419.75 703.4L420 703.3L420.25 703.3L420.5 703.3L420.75 703.3L421 703.5L421.25 703.5L421.5 703.5L421.75 703.5L422 703.5L422.25 703.5L422.5 703.5L422.75 703.5L423 703.5L423.25 703.5L423.5 703.5L423.75 703.5L424 703.4L424.25 703.4L424.5 703.4L424.75 703.3L425 703.5L425.25 703.5L425.5 703.5L425.75 703.5L426 703.3L426.25 703.3L426.5 703.3L426.75 703.3L427 703.4L427.25 703.4L427.5 703.4L427.75 703.4L428 703.3L428.25 703.3L428.5 703.3L428.75 703.2L429 703.2L429.25 703.2L429.5 703.1L429.75 703.1L430 702.5L430.25 702.5L430.75 702.4L431 703.3L431.25 703.2L431.75 703.1L432 702.3L432.25 702.1L432.75 701.8L433 701.9L433.25 701.6L433.75 700.8L434 700.4L434.25 699.9L434.5 699.4L434.75 698.9L435 698.5L435.25 697.9L435.5 697.4L435.75 696.9L436 696.2L436.25 695.9L436.5 695.7L436.7 695.6L436.75 695.6L437 696.4L437.25 696.6L437.5 696.9L437.75 697.3L438 697.8L438.25 698.3L438.5 698.8L438.75 699.3L439 699.2L439.25 699.6L439.5 700L439.75 700.4L440 700.7L440.25 701L440.5 701.2L440.75 701.4L441 701.4L441.25 701.5L441.5 701.6L441.75 701.6L442 701.2L442.25 701.2L442.5 701.1L442.75 701.1L443 701.5L443.25 701.4L443.5 701.3L443.75 701.2L444 701.1L444.25 700.9L444.5 700.8L444.75 700.6L445 700.6L445.25 700.4L445.5 700.1L445.75 699.9L446 699.4L446.25 699.1L446.5 698.6L446.75 698.1L447 697.5L447.25 696.6L447.5 695.5L447.75 694.2L448 692.5L448.25 690.5L448.5 688L448.75 685.1L449 681.3L449.25 677.2L449.5 672.3L449.75 666.9L450 661.2L450.25 654.4L450.5 647.2L450.75 639.5L451 631.6L451.25 623.8L451.5 616.3L451.75 609.6L452 603.7L452.25 599.4L452.5 596.8L452.7 596.2L452.75 596.2L453 597.7L453.25 601L453.5 605.9L453.75 612.1L454 619.2L454.25 626.9L454.5 634.7L454.75 642.5L455 649.9L455.25 657L455.5 663.5L455.75 669.4L456 675.3L456.25 679.8L456.5 683.7L456.75 687L457 689.3L457.25 691.5L457.5 693.4L457.75 694.9L458 696.1L458.25 697.1L458.5 697.9L458.75 698.5L459 699L459.25 699.4L459.5 699.8L459.75 700.1L460 700.3L460.25 700.5L460.5 700.7L460.75 700.9L461 701.2L461.25 701.3L461.5 701.5L461.75 701.6L462 701.6L462.25 701.7L462.5 701.8L462.75 701.9L463 702.1L463.25 702.2L463.5 702.3L463.75 702.3L464 702.5L464.25 702.6L464.5 702.6L464.75 702.7L465 702.2L465.25 702.2L465.5 702.3L465.75 702.3L466 702.7L466.25 702.7L466.5 702.8L466.75 702.8L467 702.9L467.25 702.9L467.5 702.9L467.75 703L468 703L468.25 703L468.5 703.1L468.75 703.1L469 703L469.25 703L469.5 703L469.75 703L470 703.1L470.25 703.1L470.5 703.2L470.75 703.2L471 703.6L472 703.3L473 703.8L474 703L475 703.4L476 703.3L477 703.4L478 703.4L479 703.5L480 703.5L481 704.1L482 703.6L483 703.6L484 703.7L485 703.3L486 703.6L487 703.6L488 703.6L489 703.6L490 703.6L491 703.6L492 703.2L493 703.6L494 703.8L495 703.3L496 703.8L497 703.7L498 703.8L499 703.2L500 703.6L501 703.7L502 703.7L503 703.8L504 703.7L505 703.6L506 704L507 703.7L508 703.2L509 703.5L510 703.7L511 703.4L512 703L513 702.3L514 701.9L515 701.6L515.2 701.6L516 701.8L517 701.6L518 702.5L519 702.8L520 703.3L521 703.4L522 703.6L523 703.7L524 703.7L525 703.8L526 703.7L527 703.8L528 703.8L529 703.8L530 704.2L531 703.7L532 703.7L533 703.9L534 703.8L535 704.3L536 703.9L537 703.8L538 703.9L539 703.9L540 704.1L541 703.8L542 703.2L543 703.9L544 703.7L545 703.7L546 703.8L547 703.8L548 703.4L549 704.2L550 703.9L551 703.9L552 703.9L553 703.8L554 703.9L555 703.7L556 703.8L557 704.3L558 704.3L559 703.8L560 703.8L561 703.8L562 703.8L563 703.8L564 703.5L565 703.8L566 703.9L567 704.3L568 703.9L569 703.3L570 703.9L571 703.9L572 703.7L573 703.8L574 703.9L575 703.8L576 703.8L577 703.8L578 703.9L579 703.8L580 703.9L581 703.9L582 703.8L583 704.3L584 703.8L585 703.8L586 703.9L587 704.4L588 703.8L589 703.8L590 703.8L591 703.9L592 703.8L593 703.5L594 704.3L595 703.8L596 703.8L597 703.5L598 703.8L599 704.2L600 703.8L601 703.9L602 704.2L603 703.8L604 703.8L605 703.4L606 704.2L607 703.9L608 703.8L609 703.8L610 704L611 703.4L612 703.7L613 703.8L614 703.8L615 703.7L616 703.8L617 703.5L618 703.8L619 704.4L620 703.7L621 703.5L622 703.8L623 703.6L624 703.6L625 704.4L626 703.8L627 704.2L628 703.3L629 704L630 703.8L631 703.8L632 704.5L633 703.8L634 703.9L635 703.8L636 703.9L637 703.8L638 703.8L639 703.8L640 703.9L641 703.7L642 703.4L643 703.4L644 703.4L645 703.9L646 703.8L647 703.9L648 704.1L649 703.9L650 703.8L651 703.5L652 704.4L653 704.2L654 703.8L654.5 703.8L655 704.1L655.5 704.1L656 703.8L656.5 703.8L657 703.8L657.5 703.8L658 703.8L658.5 703.8L659 703.8L659.5 703.8L660 703.7L660.5 703.7L661 703.8L661.5 703.8L662 703.6L662.5 703.6L663 703.7L663.5 703.7L664 703.6L664.5 703.6L665 703.6L665.5 703.6L666 703.5L666.5 703.5L667 703.1L667.5 703L668 702.7L668.5 702.4L669 702.5L669.5 701.9L670 701L670.5 699.6L671 697.7L671.5 695L672 691.5L672.5 687.2L673 682.5L673.5 677.6L674 672.9L674.5 669.3L675 667.1L675.3 666.8L675.5 666.9L676 668.8L676.5 672.2L677 676.5L677.5 681.4L678 686.4L678.5 690.8L679 694.3L679.5 697.2L680 699.2L680.5 700.7L681 701.7L681.5 702.4L682 703L682.5 703.2L683 703.3L683.5 703.4L684 703.4L684.5 703.4L685 703.6L685.5 703.6L686 703.5L686.5 703.5L687 703.7L687.5 703.7L688 703.6L688.5 703.7L689 703.7L689.5 703.8L690 703.7L690.5 703.7L691 703.7L691.5 703.8L692 703.3L692.5 703.3L693 703.7L693.5 703.7L694 703.7L694.5 703.7L695 703.3L695.5 703.3L696 703.8L697 703.4L698 703.9L699 703.9L700 703.8L701 704.2L702 703.8L703 703.9L704 704.5L705 703.5L706 704L707 704.2L708 704.3L709 703.9L710 703.9L711 703.9L712 703.9L713 703.9L714 703.8L715 703.9L716 704L717 704.5L718 703.8L719 704L720 703.9L721 703.9L722 703.9L723 704L724 703.9L725 703.8L726 703.9L727 703.9L728 703.9L729 704.3L730 703.9L731 704L732 703.9L733 704L734 704L735 703.9L736 704L737 704.3L738 703.9L739 703.3L740 704L741 703.5L742 702.9L743 703.3L744 702.7L745 702.3L746 702.6L747 702.5L748 702.5L749 702.5L750 702.3L751 703.2L752 703.4L753 703.5L754 704.2L755 704.3L756 703.8L757 704L758 704.4L759 703.5L760 704L761 704.3L762 703.9L763 703.9L764 704L765 703.9L766 703.9L767 704.1L768 704L769 704.1L770 703.9L771 703.6L772 704L773 703.9L774 703.9L775 704L776 703.9L777 703.9L778 703.9L779 703.9L780 704L781 704L782 704.4L783 704L784 703.5L785 704L786 703.9L787 704.1L788 704L789 703.5L790 704L791 703.9L792 704L793 704.3L794 704L795 703.5L796 704.1L797 703.8L798 704L799 704L800 704L801 703.9L802 703.6L803 704L804 703.9L805 703.9L806 704.3L807 704L808 704.1L809 703.9L810 704L811 704L812 703.9L813 703.4L814 704.3L815 703.9L816 703.9L817 703.6L818 704L819 704L820 703.6L821 704L822 703.9L823 703.9L824 703.7L825 703.9L826 704L827 704L828 703.9L829 703.9L830 703.9L831 704L832 703.8L833 704L834 703.9L835 703.9L836 703.9L837 703.9L838 704L838.75 703.9L839 703.8L839.25 703.8L839.75 703.7L840 703.8L840.25 703.7L840.75 703.6L841 704L841.25 703.9L841.75 703.7L842 703.3L842.25 703.2L842.75 703L843 702.9L843.25 702.8L843.75 702.8L844 702.7L844.25 702.7L844.75 702.8L845 703.1L845.25 703.2L845.75 703.3L846 703.1L846.25 703.2L846.75 703.3L847 703.4L847.25 703.4L847.75 703.5L848 703.5L848.25 703.5L848.75 703.6L849 703.7L849.25 703.7L849.75 703.8L850 703.8L850.25 703.8L850.75 703.8L851 703.7L851.25 703.7L851.75 703.7L852 703.7L852.25 703.7L852.75 703.7L853 703.6L853.25 703.6L853.75 703.5L854 703.7L854.25 703.6L854.75 703.6L855 703.4L855.25 703.3L855.75 703.3L856 703.4L856.25 703.4L856.75 703.2L857 703L857.25 702.9L857.75 702.6L858 702.5L858.25 702.2L858.75 701.6L859 701.2L859.25 700.7L859.75 699.5L860 699.3L860.25 698.5L860.75 696.5L861 694.7L861.25 693.4L861.75 690.5L862 688.8L862.25 687.1L862.75 683.3L863 681.4L863.25 679.4L863.75 675.4L864 673.9L864.25 672.1L864.75 669L865 667.2L865.25 666.2L865.75 664.9L866 664.9L866.25 665.1L866.75 666.3L867 667L867.25 668.3L867.75 671.4L868 673.5L868.25 675.4L868.75 679.4L869 681.3L869.25 683.3L869.75 687.1L870 688.8L870.25 690.5L870.75 693.4L871 694.6L871.25 695.8L871.75 697.8L872 698.8L872.25 699.5L872.75 700.7L873 701.1L873.25 701.5L873.75 702.1L874 702.4L874.25 702.6L874.75 702.9L875 703L875.25 703.1L875.75 703.3L876 703.3L876.25 703.4L876.75 703.5L877 703.6L877.25 703.6L877.75 703.7L878 703.7L878.25 703.7L878.75 703.8L879 703.6L879.25 703.6L879.75 703.6L880 703.8L880.25 703.8L880.75 703.8L881 703.6L881.25 703.6L881.75 703.7L882 703.7L882.25 703.7L882.75 703.7L883 703.8L883.25 703.8L883.75 703.8L884 703.9L884.25 703.9L884.75 703.9L885 703.9L885.25 703.9L885.75 703.9L886 704L886.25 704L886.75 704L887 703.9L887.25 703.9L887.75 703.9L888 704L888.25 704L888.75 704L889 703.9L889.25 703.9L889.75 703.9L890 703.9L890.25 703.9L890.75 703.9L891 703.9L891.25 703.9L891.75 703.9L892 703.9L892.25 703.9L892.75 703.9L893 704L894 704L895 703.8L896 703.5L897 703.9L898 703.9L899 704.1L900 703.9L901 703.9L902 704L903 704.1L904 704.3L905 704.1L906 703.7L907 703.9L908 704.4L909 703.9L910 704L911 704.6L912 704.4L913 703.6L914 704L915 703.5L916 704L917 704.4L918 704L919 703.4L920 704.1L921 704.1L922 704L923 704L924 703.9L925 704L926 704.1L927 704.1L928 704.1L929 703.9L930 703.9L931 704L932 704L933 703.9L934 703.9L935 704.1L936 704L937 703.4L938 704.1L939 704L940 704.1L941 704L942 704.3L943 703.4L944 704L945 703.9L946 703.9L947 704.1L948 704L949 704.1L950 704.1L951 704L952 703.5L952.5 703.5L952.75 703.5L953 703.9L953.25 703.9L953.5 703.9L953.75 703.9L954 703.4L954.25 703.4L954.5 703.4L954.75 703.4L955 703.9L955.25 703.9L955.5 703.9L955.75 703.9L956 704L956.25 703.9L956.5 703.9L956.75 703.9L957 703.7L957.25 703.7L957.5 703.7L957.75 703.7L958 703.9L958.25 703.9L958.5 703.9L958.75 703.9L959 703.8L959.25 703.8L959.5 703.8L959.75 703.8L960 703.9L960.25 703.9L960.5 703.9L960.75 703.8L961 704.3L961.25 704.3L961.5 704.3L961.75 704.3L962 704.1L962.25 704.1L962.5 704.1L962.75 704.1L963 703.8L963.25 703.8L963.5 703.7L963.75 703.7L964 703.9L964.25 703.9L964.5 703.9L964.75 703.8L965 703.5L965.25 703.5L965.5 703.5L965.75 703.4L966 703.7L966.25 703.6L966.5 703.6L966.75 703.6L967 703.6L967.25 703.6L967.5 703.5L967.75 703.5L968 703.3L968.25 703.3L968.5 703.3L968.75 703.2L969 703.3L969.25 703.2L969.5 703.2L969.75 703.1L970 703.1L970.25 703L970.5 702.9L970.75 702.7L971 702.4L971.25 702.2L971.5 702L971.75 701.7L972 701.5L972.25 701.1L972.5 700.6L972.75 700.1L973 699.4L973.25 698.6L973.5 697.7L973.75 696.6L974 695L974.25 693.6L974.5 692.1L974.75 690.4L975 689L975.25 687L975.5 684.9L975.75 682.5L976 680L976.25 677.5L976.5 674.8L976.75 672L977 669.2L977.25 666.5L977.5 663.8L977.75 661.2L978 658.7L978.25 656.5L978.5 654.5L978.75 652.8L979 651.5L979.25 650.5L979.5 650L979.7 649.8L979.75 649.9L980 650.1L980.25 650.8L980.5 651.9L980.75 653.4L981 655L981.25 657.1L981.5 659.4L981.75 661.9L982 665.2L982.25 668L982.5 670.7L982.75 673.5L983 675.9L983.25 678.5L983.5 681.1L983.75 683.5L984 686.1L984.25 688.2L984.5 690.1L984.75 691.9L985 693.1L985.25 694.6L985.5 695.8L985.75 697L986 698.5L986.25 699.4L986.5 700.1L986.75 700.7L987 700.9L987.25 701.4L987.5 701.8L987.75 702.1L988 702.1L988.25 702.3L988.5 702.5L988.75 702.6L989 702.4L989.25 702.5L989.5 702.6L989.75 702.7L990 703.6L990.25 703.7L990.5 703.7L990.75 703.8L991 703.4L991.25 703.5L991.5 703.5L991.75 703.5L992 703.5L992.25 703.5L992.5 703.5L992.75 703.6L993 703.7L993.25 703.7L993.5 703.7L993.75 703.7L994 703.2L994.25 703.2L994.5 703.2L994.75 703.2L995 704.1L995.25 704.1L995.5 704.1L995.75 704.1L996 703.8L996.25 703.8L996.5 703.8L996.75 703.9L997 703.8L997.25 703.8L997.5 703.8L997.75 703.8L998 703.8L998.25 703.8L998.5 703.8L998.75 703.8L999 703.8L999.25 703.8L999.5 703.8L999.75 703.8L1000 703.8L1000.25 703.7L1000.5 703.7L1000.75 703.7L1001 703.6L1001.25 703.5L1001.5 703.5L1001.75 703.4L1002 703.4L1002.25 703.4L1002.5 703.3L1002.75 703.3L1003 703.3L1003.25 703.2L1003.5 703.2L1003.75 703.1L1004 703L1004.25 703L1004.5 702.9L1004.75 702.9L1005 702.6L1005.25 702.6L1005.5 702.6L1005.75 702.7L1006 703L1006.25 703L1006.5 703.1L1006.75 703.1L1007 702.7L1008 703.6L1009 703.7L1010 704.4L1011 703.6L1012 703.5L1013 704.3L1014 703.9L1015 704.1L1016 704L1017 704.2L1018 704L1019 704.1L1020 703.9L1021 703.6L1022 704.6L1023 704.1L1024 703.9L1025 704L1026 704L1027 704L1028 704.1L1029 704L1030 704L1031 704.2L1032 704L1033 704.2L1034 704L1035 703.7L1036 704.1L1037 704.1L1038 704L1039 703.8L1040 704L1041 704.1L1042 704L1043 704.1L1044 703.6L1045 704.1L1046 703.5L1047 704.2L1048 703.7L1049 703.6L1050 703.8L1051 704.1L1052 704.2L1053 704.1L1054 704.2L1055 703.6L1056 703.8L1057 704.2L1058 704.6L1059 704.1L1060 703.6L1061 704.2L1062 704.2L1063 704.2L1064 704L1065 704.1L1066 704.1L1067 703.6L1068 703.7L1069 704.1L1070 704.2L1071 703.8L1072 704.3L1073 704L1074 703.6L1075 704.1L1076 704.2L1077 703.7L1078 704.1L1079 704L1080 704L1081 703.9L1082 703.6L1083 703.5L1084 703.2L1085 702.9L1086 702.5L1087 702.3L1088 702.7L1088.5 702.7L1089 702.7L1090 701.8L1091 702.5L1092 702.9L1093 703.2L1094 703.3L1095 703.6L1096 703.9L1097 704.3L1098 704L1099 704.1L1100 703.5L1101 704.2L1102 704.3L1103 704.1L1104 704.1L1105 704.5L1106 704.1L1107 704.2L1108 704.7L1109 704.2L1110 704.2L1111 704.1L1112 704.2L1113 704.2L1114 704.1L1115 704.2L1116 704.2L1117 704.2L1118 704L1119 704.1L1120 704.2L1121 704.1L1122 703.7L1123 704.1L1124 704.6L1125 704.7L1126 704.2L1127 704.2L1128 703.8L1129 704.3L1130 704.1L1131 704.6L1132 704.2L1133 704.2L1134 704.2L1135 704.1L1136 704.2L1137 704.1L1138 704.2L1139 704.3L1140 704.2L1141 704.1L1142 704.2L1143 704L1144 704.2L1145 704.1L1146 704.3L1147 704.2L1148 704.2L1149 704.1L1150 704.3L1151 704.2L1152 704.2L1153 704.1L1154 704.2L1155 704.3L1156 704.2L1157 704.2L1158 704.1L1159 704.2L1160 704.2L1161 704.2L1162 704.2L1163 704.2L1164 704.2L1165 704.2L1166 704.2L1167 704.2L1168 704.2L1169 704.2L1170 704.2L1171 704.2L1172 704.3L1173 704.3L1174 704L1175 704.2L1176 704.3L1177 704.3L1178 704.2L1179 704.1L1180 704.2L1181 704.2L1182 704.2L1183 704.2L1184 704.2L1185 704.2L1186 704.2L1187 704.2L1188 704.2L1189 704.2L1190 704.2L1191 704.2L1192 704.2L1193 704.3L1194 704.2L1195 704.2L1196 704.2L1197 704.2L1198 704.2L1199 704.2L1200 704.2L1201 704.1L1202 704.2L1203 704.2L1204 704.2L1205 704.2L1206 704.2L1207 704.2L1208 704.2L1209 704.2L1210 704.2L1211 704.2L1212 704.4L1213 704.2L1214 704.2L1215 704.3L1216 704.2L1217 704.3L1218 704.2L1219 704.2L1220 704.2L1221 704.2L1222 704.2L1223 704.3L1224 704.2L1225 704.2L1226 704.2L1227 704.2L1228 704.3L1229 704.1L1230 704.1L1231 704.3L1232 704.3L1233 704.4L1234 704.3L1235 704.2L1236 704.3L1237 704.2L1238 704.3L1239 704.1L1240 704.2L1241 704.1L1242 704.1L1243 704.3L1244 704.2L1245 704.4L1246 704.4L1247 704.3L1248 704.4L1249 704.2L1250 704.3L1251 704.2L1252 704.1L1253 704.3L1254 704.2L1255 704.3L1256 704.4L1257 704.3L1258 704.3L1259 704.3L1260 704.4L1261 704.3L1262 704.1L1263 704.3L1264 704.3L1265 704.3L1266 704.3L1267 704.2L1268 704.2L1269 704.1L1270 704.4L1271 704.3L1272 704.3L1273 704.3L1274 704.2L1275 704.3L1276 704.3L1277 704.3L1278 704.3L1279 704.2L1280 704.3L1281 704.2L1282 704.3L1283 704.2L1284 704.2L1285 704.3L1286 704.3L1287 704.1L1288 704.3L1289 704.3L1290 704.3L1291 704.3L1292 704.3L1293 704.3L1294 704.3L1295 704.3L1296 704.3L1297 704.3L1298 704.3L1299 704.5L1300 704.3L1301 704.3L1302 704.1L1303 704.3L1304 704.3L1305 704.3L1306 704.1L1307 704.3L1308 704.3L1309 704.1L1310 704.3L1311 704.1L1312 704.3L1313 704.3L1314 704.3L1315 704.3L1316 704.3L1317 704.3L1318 704.3L1319 704.3L1320 704.2L1321 704.4L1322 704.3L1323 704.1L1324 704.3L1325 704.3L1326 704.4L1327 704.3L1328 704.4L1329 704.4L1330 704.3L1331 704.3L1332 704.3L1333 704.2L1334 704.2L1335 704.3L1336 704.2L1337 704.2L1338 704.1L1339 704L1340 703.8L1341 703.6L1342 703.3L1343 703L1344 702.6L1345 702.4L1345.9 702.3L1346 702.3L1347 702.4L1348 702.7L1349 703L1350 703.3L1351 703.7L1352 703.9L1353 704L1354 704.1L1355 704.2L1356 704.1L1357 704.3L1358 704.4L1359 704.3L1360 704.3L1361 704.1L1362 704.3L1363 704.3L1364 704.3L1365 704.3L1366 704.1L1367 704.2L1368 704.3L1369 704.3L1370 704.3L1371 704.3L1372 704.3L1373 704.3L1374 704.3L1375 704.3L1376 704.3L1377 704.3L1378 704.4L1379 704.3L1380 704.3L1381 704.3L1382 704.3L1383 704.3L1384 704.5L1385 704.3L1386 704.3L1387 704.2L1388 704.3L1389 704.3L1390 704.5L1391 704.3L1392 704.3L1393 704.3L1394 704.5L1395 704.3L1396 704.2L1397 704.4L1398 704.3L1399 704.3L1400 704.4L1401 704.3L1402 704.3L1403 704.3L1404 704.3L1405 704.4L1406 704.4L1407 704.3L1408 704.4L1409 704.2L1410 704.3L1411 704.4L1412 704.3L1413 704.3L1414 704.2L1415 704.4L1416 704.3L1417 704.3L1418 704.4L1419 704.5L1420 704.3L1421 704.4L1422 704.4L1423 704.4L1424 704.5L1425 704.3L1426 704.3L1427 704.4L1428 704.4L1429 704.2L1430 704.3L1431 704.3L1432 704.3L1433 704.2L1434 704.3L1435 704.3L1436 704.3L1437 704.5L1438 704.2L1439 704.3L1440 704.5L1441 704.3L1442 704.4L1443 704.4L1444 704.4L1445 704.4L1446 704.5L1447 704.4L1448 704.4L1449 704.4L1450 704.3L1451 704.4L1452 704.5L1453 704.2L1454 704.2L1455 704.4L1456 704.5L1457 704.4L1458 704.4L1459 704.3L1460 704.4L1461 704.4L1462 704.4L1463 704.5L1464 704.4L1465 704.4L1466 704.4L1467 704.2L1468 704.4L1469 704.4L1470 704.4L1471 704.4L1472 704.4L1473 704.4L1474 704.4L1475 704.4L1476 704.2L1477 704.4L1478 704.4L1479 704.2L1480 704.4L1481 704.3L1482 704.4L1483 704.4L1484 704.4L1485 704.4L1486 704.4L1487 704.4L1488 704.4L1489 704.2L1490 704.5L1491 704.2L1492 704.4L1493 704.4L1494 704.4L1495 704.3L1496 704.4L1497 704.5L1498 704.3L1499 704.5L1500 704.4L1501 704.4L1502 704.4L1503 704.2L1504 704.4"/>
<path stroke="#0000ff" d="M114 533.1L115 533.1L116 532.9L117 533L118 533.1L119 533.1L120 532.9L121 533.1L122 533.1L123 532.5L124 533L125 532.9L126 533L127 533.1L128 533L129 533L130 533L131 533L132 533L133 533L134 532.5L135 533L136 533L137 533.5L138 533L139 532.6L140 532.6L141 533L142 533L143 532.7L144 532.5L145 533.1L146 533L147 532.5L148 532.9L149 533.3L150 533L151 533.1L152 532.4L153 532.5L154 533.1L155 533L156 533.1L157 532.5L158 532.9L159 532.9L160 533L161 533.6L162 533.2L163 533.2L164 533L165 533.5L166 533.1L167 533.1L168 533L169 533.1L170 533L171 533.1L172 533.1L173 533L174 533L175 533.1L176 533.1L177 533.2L178 533L179 532.5L180 533.6L181 532.5L182 533.1L183 533L184 533L185 533.2L186 533L187 532.9L188 533L189 533.5L190 533.1L191 532.7L192 533L193 532.5L194 533.2L195 533L196 532.6L197 532.6L198 533L199 533.2L200 533L201 533.1L202 533L203 533L204 532.9L205 533L206 533.1L207 533L208 533.4L209 533L210 533.1L211 532.5L212 533L213 533L214 533L215 533.1L216 533.1L217 533.1L218 533.1L219 533.1L220 532.9L221 533L222 533.1L223 533.1L224 533L225 533L226 533L227 533.2L228 533.2L229 533.1L230 533.1L231 533.1L232 533.1L233 532.9L234 533L235 533L236 533.1L237 533L238 533L239 533.1L240 532.5L241 532.7L242 533L243 533.3L244 532.6L245 533L246 532.6L247 533.1L248 533.1L249 532.7L250 532.7L251 533L252 533.2L253 532.7L254 533.2L255 533.2L256 533.2L257 533.2L258 533.5L259 533.1L260 533L261 533.1L262 532.9L263 533.2L264 533.1L265 533L266 533.1L267 533.1L268 533L269 532.5L270 533.1L271 533.1L272 533.1L273 533.1L274 533.5L275 533L276 533.1L277 533L278 533.1L279 532.5L280 533.1L281 533L282 533.2L283 533L284 533.1L285 533.2L286 533.2L287 532.9L288 532.7L289 533L290 533.1L291 533L292 533L293 533.1L294 533.2L295 533L296 533.1L297 533.1L298 533.4L299 533.1L300 533.1L301 533L302 533L303 532.5L304 533.4L305 533.1L306 533.1L307 532.5L308 533L309 533.1L310 533L311 533L312 532.9L313 533.1L314 533L315 533.1L316 533.1L317 532.9L318 533L319 533L320 532.9L321 533.4L322 533.1L323 533L324 532.9L325 532.9L326 533L327 533.6L328 532.9L329 533.1L330 533L331 533L332 533L333 532.9L334 532.3L335 532.9L336 533.3L337 532.9L338 532.8L339 532.9L340 532.8L341 532.8L342 532.7L342.75 532.7L343 532.7L343.25 532.7L343.5 532.7L343.75 532.6L344 532.2L344.25 532.1L344.5 532.1L344.75 532.1L345 532.6L345.25 532.6L345.5 532.6L345.75 532.6L346 532.5L346.25 532.5L346.5 532.5L346.75 532.5L347 532.7L347.25 532.7L347.5 532.7L347.75 532.7L348 532.3L348.25 532.3L348.5 532.2L348.75 532.2L349 531.6L349.25 531.6L349.5 531.5L349.75 531.5L350 532L350.25 532L350.5 531.9L350.75 531.8L351 532.1L351.25 532L351.5 531.9L351.75 531.8L352 531.1L352.25 531L352.5 530.9L352.75 530.7L353 530.7L353.25 530.5L353.5 530.3L353.75 530L354 529.7L354.25 529.2L354.5 528.7L354.75 528L355 527.4L355.25 526.3L355.5 524.8L355.75 523.1L356 520.6L356.25 518L356.5 514.8L356.75 511.2L357 506.9L357.25 502.2L357.5 497L357.75 491.4L358 485.6L358.25 479.8L358.5 474.3L358.75 469.3L359 465.7L359.25 462.8L359.5 461.3L359.6 461.2L359.75 461.5L360 463.2L360.25 466.4L360.5 470.7L360.75 475.8L361 481L361.25 486.8L361.5 492.5L361.75 498L362 503.1L362.25 507.7L362.5 511.8L362.75 515.4L363 517.9L363.25 520.5L363.5 522.6L363.75 524.3L364 526.2L364.25 527.2L364.5 528.1L364.75 528.8L365 529.2L365.25 529.7L365.5 530L365.75 530.3L366 530.4L366.25 530.6L366.5 530.8L366.75 530.9L367 530.9L367.25 531L367.5 531.1L367.75 531.2L368 531.1L368.25 531.2L368.5 531.3L368.75 531.3L369 531.6L369.25 531.7L369.5 531.7L369.75 531.7L370 531.8L370.25 531.8L370.5 531.8L370.75 531.7L371 532.1L371.25 532.1L371.5 532L371.75 532L372 531.5L372.25 531.4L372.5 531.3L372.75 531.3L373 531.3L373.25 531.2L373.5 531.1L373.75 531L374 530.9L374.25 530.9L374.5 530.9L374.75 530.8L375 531.4L375.2 531.4L375.25 531.4L375.5 531.4L375.75 531.4L376 531.5L376.25 531.6L377 531.3L378 531.7L379 532.3L380 532.4L381 532.8L382 532.7L383 532.7L383.5 532.7L384 532.9L384.5 532.9L385 532.4L385.5 532.4L386 532.8L386.5 532.8L387 533.2L387.5 533.2L388 532.8L388.5 532.8L389 532.9L389.5 532.9L390 532.8L390.5 532.8L391 532.7L391.5 532.7L392 532.7L392.5 532.6L393 533.1L393.5 533.1L394 532.7L394.5 532.6L395 532.5L395.5 532.4L396 532.5L396.5 532.4L397 532.7L397.5 532.5L398 531.6L398.5 531.1L399 530.9L399.5 529.9L400 527.9L400.5 526.2L401 523.7L401.5 521.4L402 519.9L402.5 517.7L403 515.5L403.5 514.5L403.7 514.4L404 514.7L404.5 515.8L405 517.6L405.5 519.9L406 522.3L406.5 524.6L407 526.7L407.5 528.3L408 529L408.5 530L409 531.2L409.5 531.7L410 531.9L410.5 532.1L411 532.3L411.5 532.4L412 532.4L412.5 532.4L413 532.5L413.5 532.5L414 532.5L414.5 532.6L415 532.7L415.5 532.8L416 532L416.5 532.1L417 532.8L417.5 532.8L418 532.7L418.5 532.7L419 532.6L419.5 532.6L420 532.3L420.5 532.3L421 532.9L421.5 532.9L422 533L422.5 533L423 532.6L423.5 532.6L424 532.5L424.5 532.5L425 532.8L425.5 532.7L426 532.5L426.5 532.4L427 532.1L427.5 531.9L428 531.3L428.5 530.9L429 530.6L429.5 529.7L430 528L430.5 526.7L431 525.2L431.5 523.9L431.75 523.4L432 523.6L432.25 523.4L432.3 523.4L432.5 523.5L432.75 523.7L433 524L433.25 524.5L433.5 525.2L433.75 525.8L434 526.3L434.25 527L434.5 527.6L434.75 528.2L435 528.8L435.25 529.3L435.5 529.6L435.75 529.9L436 530.8L436.25 531L436.5 531.1L436.75 531.2L437 530.6L437.25 530.6L437.5 530.6L437.75 530.6L438 531.2L438.25 531.1L438.5 531.1L438.75 531L439 529.7L439.25 529.6L439.5 529.5L439.75 529.3L440 529.5L440.25 529.3L440.5 529.1L440.75 528.9L441 528.9L441.25 528.6L441.5 528.3L441.75 527.9L442 527.2L442.25 526.7L442.5 526L442.75 525.2L443 524L443.25 522.7L443.5 521L443.75 518.9L444 516.4L444.25 513L444.5 508.8L444.75 503.8L445 497.8L445.25 490.6L445.5 482.4L445.75 473L446 462.8L446.25 451.6L446.5 439.8L446.75 427.8L447 415.9L447.25 405.1L447.5 395.8L447.75 388.7L448 384.4L448.2 383.3L448.25 383.4L448.5 385.8L448.75 391.2L449 399.4L449.25 409.4L449.5 420.6L449.75 432.5L450 444.5L450.25 456.1L450.5 467L450.75 477L451 485.8L451.25 493.7L451.5 500.4L451.75 506.1L452 510.3L452.25 514.1L452.5 517.2L452.75 519.7L453 522.1L453.25 523.6L453.5 524.8L453.75 525.8L454 526.5L454.25 527.1L454.5 527.6L454.75 528.1L455 528.6L455.25 528.9L455.5 529.2L455.75 529.4L456 529.3L456.25 529.5L456.5 529.7L456.75 529.9L457 530.3L457.25 530.4L457.5 530.6L457.75 530.7L458 530.9L458.25 531.1L458.5 531.2L458.75 531.3L459 531.2L459.25 531.3L459.5 531.3L459.75 531.4L460 531.5L460.25 531.5L460.5 531.6L460.75 531.7L461 531.8L461.25 531.8L461.5 531.9L461.75 531.9L462 532.3L462.25 532.4L462.5 532.4L462.75 532.5L463 532.2L463.25 532.2L463.5 532.2L463.75 532.2L464 531.9L464.25 531.9L464.5 531.9L464.75 532L465 532.3L466 532L467 532.6L468 533L469 532.7L470 532.6L471 532.3L472 532.7L473 533L474 532.9L475 532.8L476 532.9L477 533L478 532.9L479 532.9L480 533L481 533L482 533L483 532.5L484 533.1L485 533.1L486 533L487 533L488 533L489 533.1L490 533L491 533L492 532.6L493 533.1L494 532.9L495 533L496 533.5L497 533.1L498 533L499 533.2L500 533.5L501 533.1L502 533.1L503 533.1L504 532.9L505 532.6L506 532.6L507 532.5L508 532.3L509 532L510 531.8L511 531.7L511.6 531.7L512 531.3L513 531.8L514 531.9L515 531.9L516 532.5L517 532.6L518 532.8L519 533L520 532.9L521 533.1L522 533.7L523 533.1L524 533.2L525 533.2L526 533.3L527 533.7L528 533.2L529 533.4L530 533.3L531 533.2L532 533.3L533 533.2L534 533.6L535 532.9L536 533.3L537 533.2L538 533.5L539 533.8L540 532.7L541 533.6L542 533.2L543 533.2L544 533.7L545 533.1L546 533.1L547 533.3L548 533.5L549 533.2L550 532.9L551 533.2L552 533.2L553 533.3L554 533.2L555 533.3L556 533.2L557 533.6L558 533.2L559 533.3L560 533.2L561 533.7L562 533.3L563 533.3L564 533.2L565 533.2L566 533.2L567 533.3L568 533.1L569 533.1L570 533.1L571 533.7L572 533.2L573 533.2L574 533.7L575 533.3L576 532.7L577 533.2L578 533.3L579 533.2L580 533.1L581 533.3L582 533.3L583 532.8L584 533.3L585 532.9L586 533.3L587 533.6L588 533.2L589 533.2L590 533.2L591 533.3L592 533.2L593 533.3L594 533.2L595 533.3L596 533.4L597 532.8L598 533.9L599 533.6L600 533L601 533.3L602 533.3L603 532.8L604 533.2L605 533.3L606 532.8L607 533.1L608 532.9L609 533.2L610 533.3L611 533.3L612 533.2L613 533.3L614 533.2L615 533.4L616 533.4L617 532.8L618 533.2L619 533.3L620 532.9L621 533.4L622 533.3L623 533.2L624 533.3L625 533.7L626 533.4L627 533.3L628 533.2L629 533.2L630 533.1L631 533.3L632 533.3L633 533.4L634 533.3L635 533.4L636 532.9L637 533.3L638 533.4L639 533.6L640 533L641 532.8L642 532.8L643 532.9L644 532.8L645 533.4L646 533.3L647 533.2L648 533.3L649 533.4L650 533.3L650.5 533.3L651 533.3L651.5 533.3L652 533.3L652.5 533.3L653 533.2L653.5 533.2L654 533.4L654.5 533.4L655 533.4L655.5 533.4L656 533.4L656.5 533.4L657 532.7L657.5 532.7L658 533.2L658.5 533.2L659 533.2L659.5 533.1L660 532.7L660.5 532.7L661 533.1L661.5 533.1L662 533L662.5 533L663 533L663.5 532.9L664 532.9L664.5 532.8L665 532.5L665.5 532.2L666 531.4L666.5 530.7L667 530L667.5 528.5L668 526.6L668.5 524.3L669 521.5L669.5 518.9L670 516.1L670.5 514.1L671 512.8L671.3 512.6L671.5 512.7L672 514.3L672.5 516.1L673 518.6L673.5 521.2L674 523.8L674.5 526.2L675 528.2L675.5 529.7L676 530.7L676.5 531.6L677 532.3L677.5 532.6L678 532.8L678.5 533L679 533.1L679.5 533.1L680 532.6L680.5 532.7L681 533.1L681.5 533.2L682 533.2L682.5 533.2L683 533.2L683.5 533.2L684 533.3L684.5 533.3L685 533.1L685.5 533.1L686 533.1L686.5 533.1L687 533.1L687.5 533.1L688 533.6L688.5 533.6L689 533.2L689.5 533.2L690 533.7L690.5 533.7L691 533.4L691.5 533.4L692 533.2L693 532.9L694 533.2L695 533.4L696 533.4L697 533.2L698 532.9L699 533.2L700 533.3L701 533.7L702 533.7L703 532.9L704 533.2L705 533.4L706 533.8L707 533.3L708 533.3L709 533.4L710 533.3L711 533.3L712 533.2L713 533.3L714 533.3L715 533.4L716 532.8L717 533.2L718 533.4L719 533.3L720 533.3L721 533.3L722 533.3L723 533.8L724 533.2L725 533.4L726 533.3L727 533.4L728 533.4L729 533.8L730 533.3L731 533L732 533.3L733 533.4L734 533.3L735 533.3L736 533.4L737 532.9L738 533.2L739 533.3L740 533.9L741 533.3L742 533.3L743 533.4L744 533.2L745 533.7L746 533.4L747 533.4L748 533.9L749 533.8L750 533.3L751 533.3L752 533L753 533.4L754 533.3L755 533.4L756 533.4L757 533.4L758 533.3L759 533.4L760 533.4L761 533.4L762 533.4L763 533.3L764 533.4L765 533.9L766 533.4L767 533.3L768 533.4L769 533.3L770 533.3L771 533.6L772 533L773 533.4L774 533.3L775 533.3L776 533.8L777 533.3L778 533.8L779 533.3L780 533.4L781 533.3L782 533.3L783 533.3L784 533.3L785 533.4L786 533.1L787 533L788 533.7L789 532.9L790 533.3L791 533.3L792 533.4L793 533.4L794 533.3L795 533.4L796 533.3L797 533.2L798 533.3L799 533.4L800 533.5L801 533.5L802 533.3L803 533.5L804 533.3L805 533.4L806 533.8L807 533.5L808 533.4L809 533.5L810 533.4L811 533.7L812 533.4L813 533.5L814 533.4L815 533.9L816 533.4L817 533.2L818 533.4L819 533.4L820 533.3L821 533.3L822 533.3L823 533.2L824 533.7L825 533.3L826 533.3L827 533.3L828 533.4L829 533.4L830 533L831 533.2L832 533.3L833 532.8L834 533.3L835 533.2L835.5 533.2L835.75 533.2L836 533.2L836.25 533.2L836.5 533.2L836.75 533.1L837 533.3L837.25 533.2L837.5 533.2L837.75 533.2L838 533L838.25 533L838.5 532.9L838.75 532.9L839 532.9L839.25 532.8L839.5 532.7L839.75 532.6L840 532.7L840.25 532.6L840.5 532.5L840.75 532.4L841 532L841.25 531.9L841.5 531.8L841.75 531.8L842 531.9L842.25 531.8L842.3 531.8L842.5 531.8L842.75 531.9L843 531.8L843.25 531.9L843.5 531.9L843.75 532L844 532L844.25 532.1L844.5 532.2L844.75 532.3L845 532.4L845.25 532.5L845.5 532.6L845.75 532.7L846 532.8L846.25 532.8L846.5 532.8L846.75 532.9L847 532.8L847.25 532.8L847.5 532.9L847.75 532.9L848 533.4L848.25 533.4L848.5 533.4L848.75 533.4L849 532.8L849.25 532.8L849.5 532.8L849.75 532.8L850 532.6L850.25 532.6L850.5 532.5L850.75 532.5L851 532.7L851.25 532.7L851.5 532.6L851.75 532.6L852 532.3L852.25 532.2L852.5 532.1L852.75 532L853 532L853.25 531.8L853.5 531.6L853.75 531.4L854 530.5L854.25 530.1L854.5 529.7L854.75 529.2L855 529.2L855.25 528.5L855.5 527.7L855.75 526.7L856 525L856.25 523.7L856.5 522.2L856.75 520.6L857 519.3L857.25 517.3L857.5 515.1L857.75 512.7L858 510.2L858.25 507.5L858.5 504.6L858.75 501.7L859 498.2L859.25 495.2L859.5 492.1L859.75 489.2L860 486.5L860.25 483.9L860.5 481.5L860.75 479.5L861 477.6L861.25 476.4L861.5 475.5L861.75 475.2L861.8 475.2L862 475.2L862.25 475.8L862.5 476.9L862.75 478.5L863 480.6L863.25 482.8L863.5 485.3L863.75 488.1L864 491.1L864.25 494.1L864.5 497.2L864.75 500.2L865 503.2L865.25 506.2L865.5 509L865.75 511.6L866 514L866.25 516.3L866.5 518.4L866.75 520.3L867 522L867.25 523.6L867.5 525L867.75 526.2L868 526.8L868.25 527.7L868.5 528.5L868.75 529.2L869 530.1L869.25 530.5L869.5 530.9L869.75 531.2L870 531.6L870.25 531.8L870.5 532L870.75 532.1L871 531.7L871.25 531.8L871.5 531.9L871.75 532L872 532.4L872.25 532.5L872.5 532.5L872.75 532.6L873 532.7L873.25 532.8L873.5 532.8L873.75 532.8L874 532.8L874.25 532.8L874.5 532.9L874.75 532.9L875 532.5L875.25 532.5L875.5 532.5L875.75 532.5L876 533L876.25 533L876.5 533L876.75 533.1L877 533L877.25 533L877.5 533L877.75 533L878 533L878.25 533L878.5 533L878.75 533L879 533.2L879.25 533.2L879.5 533.2L879.75 533.2L880 533.1L880.25 533.1L880.5 533.1L880.75 533.1L881 532.7L881.25 532.7L881.5 532.7L881.75 532.7L882 533.3L882.25 533.3L882.5 533.3L882.75 533.3L883 533.2L883.25 533.2L883.5 533.2L883.75 533.2L884 533.3L884.25 533.3L884.5 533.3L884.75 533.3L885 533.3L885.25 533.3L885.5 533.3L885.75 533.3L886 533.3L886.25 533.3L886.5 533.3L886.75 533.3L887 533.3L887.25 533.3L887.5 533.3L887.75 533.3L888 533.8L888.25 533.8L889 533.4L890 533.3L891 533.3L892 533.2L893 533.4L894 533.3L895 532.9L896 533.4L897 533.3L898 533.3L899 533.4L900 533.4L901 533.4L902 533.2L903 533.9L904 533.5L905 533.4L906 533.4L907 532.8L908 533.2L909 532.8L910 533.7L911 533.4L912 533.3L913 533.3L914 533.3L915 533.3L916 533.4L917 533.3L918 533.4L919 533.3L920 533.4L921 533.2L922 532.8L923 533.3L924 533L925 533.9L926 533.4L927 533.7L928 533.4L929 533.3L930 533.4L931 533.4L932 532.8L933 533.4L934 533.4L935 533.3L936 533.2L937 533.4L938 532.9L939 532.8L940 533.3L941 533.3L942 533.2L943 533.3L944 533.6L945 532.7L946 533.2L947 533.2L948 533.2L948.25 533.2L948.5 533.2L948.75 533.2L949 533.1L949.25 533.1L949.5 533.1L949.75 533.1L950 533.1L950.25 533.1L950.5 533.1L950.75 533.1L951 533.2L951.25 533.2L951.5 533.2L951.75 533.2L952 533.1L952.25 533.1L952.5 533.1L952.75 533.1L953 532.6L953.25 532.6L953.5 532.5L953.75 532.5L954 533L954.25 533L954.5 533L954.75 533L955 533.4L955.25 533.3L955.5 533.3L955.75 533.3L956 533L956.25 532.9L956.5 532.9L956.75 532.9L957 532.9L957.25 532.8L957.5 532.8L957.75 532.8L958 533.3L958.25 533.3L958.5 533.3L958.75 533.3L959 532.2L959.25 532.2L959.5 532.1L959.75 532.1L960 532.6L960.25 532.5L960.5 532.5L960.75 532.5L961 533L961.25 533L961.5 532.9L961.75 532.9L962 532.5L962.25 532.4L962.5 532.4L962.75 532.4L963 532.3L963.25 532.3L963.5 532.2L963.75 532.2L964 532.2L964.25 532.1L964.5 532L964.75 532L965 531.4L965.25 531.3L965.5 531.2L965.75 531L966 531.2L966.25 531L966.5 530.8L966.75 530.5L967 530.1L967.25 529.7L967.5 529.2L967.75 528.7L968 528.1L968.25 527.3L968.5 526.3L968.75 525.2L969 523.9L969.25 522.3L969.5 520.6L969.75 518.6L970 516.5L970.25 513.9L970.5 511L970.75 507.7L971 503.7L971.25 499.8L971.5 495.5L971.75 490.9L972 486.1L972.25 480.9L972.5 475.5L972.75 469.9L973 464.1L973.25 458.4L973.5 452.6L973.75 447L974 442.1L974.25 437L974.5 432.3L974.75 428.1L975 424.3L975.25 421.4L975.5 419.2L975.75 418L976 418.1L976.25 418.5L976.5 419.8L976.75 421.9L977 423.7L977.25 427.3L977.5 431.5L977.75 436.1L978 441.4L978.25 446.8L978.5 452.4L978.75 458.1L979 463.9L979.25 469.6L979.5 475.1L979.75 480.6L980 486.1L980.25 491L980.5 495.6L980.75 499.9L981 503.9L981.25 507.5L981.5 510.8L981.75 513.7L982 516.1L982.25 518.4L982.5 520.4L982.75 522.2L983 523.4L983.25 524.7L983.5 525.9L983.75 526.8L984 528.1L984.25 528.8L984.5 529.4L984.75 529.9L985 530.2L985.25 530.5L985.5 530.8L985.75 531.1L986 531.3L986.25 531.5L986.5 531.6L986.75 531.8L987 531.8L987.25 531.9L987.5 532L987.75 532L988 532L988.25 532.1L988.5 532.1L988.75 532.2L989 531.8L989.25 531.8L989.5 531.9L989.75 531.9L990 532.3L990.25 532.3L990.5 532.4L990.75 532.4L991 532.6L991.25 532.7L991.5 532.7L991.75 532.7L992 532.7L992.25 532.8L992.5 532.8L992.75 532.8L993 532.8L993.25 532.9L993.5 532.9L993.75 532.9L994 532.9L994.25 532.9L994.5 533L994.75 533L995 533L995.25 533L995.5 533L995.75 533L996 532.6L996.25 532.6L996.5 532.7L996.75 532.7L997 533L997.25 533L997.5 533L997.75 533L998 533.1L998.25 533.1L998.5 533.2L998.75 533.2L999 532.7L999.25 532.7L999.5 532.7L999.75 532.7L1000 532.8L1000.25 532.8L1000.5 532.8L1000.75 532.8L1001 533.3L1001.25 533.3L1001.5 533.3L1001.75 533.3L1002 533.2L1002.25 533.2L1002.5 533.2L1002.75 533.2L1003 533.3L1003.25 533.3L1003.5 533.3L1003.75 533.3L1004 533.2L1005 533.6L1006 533.3L1007 533.2L1008 532.9L1009 533.3L1010 533.5L1011 533L1012 533.3L1013 533.3L1014 533.5L1015 532.8L1016 533.4L1017 533.3L1018 533.4L1019 533.5L1020 533.4L1021 533.4L1022 533.3L1023 533.5L1024 533.4L1025 533.5L1026 533.4L1027 533.5L1028 533.4L1029 533.4L1030 533.5L1031 533.4L1032 533.1L1033 533.4L1034 533.5L1035 533.5L1036 533.6L1037 533.4L1038 533.3L1039 533.5L1040 533.4L1041 533.4L1042 533.4L1043 533.8L1044 533.4L1045 533.4L1046 533.8L1047 533.4L1048 533.5L1049 533.5L1050 533.5L1051 533.5L1052 534L1052.5 534L1053 533.3L1053.5 533.3L1054 533.5L1054.5 533.5L1055 533.3L1055.5 533.3L1056 533.1L1056.5 533L1057 533L1057.5 532.9L1058 532.7L1058.5 532.6L1059 532.3L1059.5 532.2L1059.8 532.2L1060 532.4L1060.5 532.4L1061 532.4L1061.5 532.6L1062 532.3L1062.5 532.4L1063 533L1063.5 533.1L1064 533.4L1064.5 533.4L1065 533.4L1065.5 533.4L1066 533.5L1066.5 533.5L1067 533.4L1067.5 533.4L1068 533.4L1068.5 533.4L1069 532.8L1069.5 532.8L1070 533.4L1070.5 533.4L1071 533.3L1071.5 533.3L1072 533.4L1072.5 533.4L1073 533.3L1073.5 533.3L1074 533.4L1074.5 533.3L1075 533.3L1075.5 533.3L1076 533.2L1076.5 533.2L1077 533.2L1077.5 533.1L1078 533L1078.5 532.9L1079 532.9L1079.5 532.7L1080 532.4L1080.5 532L1081 530.8L1081.5 530.1L1082 529.4L1082.5 528.4L1083 527L1083.5 525.7L1084 525.2L1084.5 523.9L1085 522.5L1085.5 521.7L1086 521.5L1086.5 521.6L1087 521.6L1087.5 522L1088 522.6L1088.5 523.2L1089 523.8L1089.5 524.5L1090 525.3L1090.5 526L1091 526.7L1091.5 527.4L1092 528.3L1092.5 528.9L1093 529.5L1093.5 530L1094 530.4L1094.5 530.8L1095 531.3L1095.5 531.6L1096 531.4L1096.5 531.7L1097 532.8L1097.5 533L1098 532.5L1098.5 532.7L1099 532.8L1099.5 532.9L1100 533L1100.5 533.1L1101 533.4L1101.5 533.5L1102 533.2L1102.5 533.2L1103 533.1L1103.5 533.1L1104 533.2L1104.5 533.2L1105 533.3L1105.5 533.3L1106 533L1106.5 533L1107 532.7L1107.5 532.6L1108 532.9L1108.5 532.9L1109 532.8L1109.5 532.7L1110 532.7L1110.5 532.6L1111 532.5L1111.5 532.4L1112 532.3L1112.5 532.3L1112.6 532.3L1113 532.7L1113.5 532.7L1114 532.6L1114.5 532.7L1115 532.6L1115.5 532.6L1116 532.7L1116.5 532.8L1117 532.9L1117.5 533L1118 533L1118.5 533.1L1119 533.9L1119.5 533.9L1120 533.4L1121 533.5L1122 534L1123 533.9L1124 533.4L1125 533.2L1126 533.5L1127 534.1L1128 533L1129 533.3L1130 533.5L1131 533.5L1132 534L1133 533.6L1134 533.6L1135 533.4L1136 533.5L1137 533.6L1138 533.5L1139 533.5L1140 533.6L1141 533.5L1142 533.4L1143 533.6L1144 533.5L1145 533.4L1146 533.6L1147 533.5L1148 533.6L1149 533.9L1150 533.5L1151 533.7L1152 533.5L1153 533.6L1154 533.6L1155 533.6L1156 533.6L1157 533.7L1158 533.5L1159 533.4L1160 533.6L1161 533.5L1162 533.6L1163 533.6L1164 533.6L1165 533.8L1166 533.6L1167 533.6L1168 533.6L1169 533.6L1170 533.5L1171 533.7L1172 533.6L1173 533.6L1174 533.6L1175 533.6L1176 533.6L1177 533.6L1178 533.6L1179 533.6L1180 533.6L1181 533.6L1182 533.6L1183 533.5L1184 533.7L1185 533.6L1186 533.6L1187 533.6L1188 533.6L1189 533.6L1190 533.6L1191 533.6L1192 533.6L1193 533.4L1194 533.6L1195 533.6L1196 533.7L1197 533.6L1198 533.6L1199 533.6L1200 533.6L1201 533.6L1202 533.6L1203 533.6L1204 533.6L1205 533.6L1206 533.6L1207 533.6L1208 533.6L1209 533.6L1210 533.6L1211 533.6L1212 533.5L1213 533.6L1214 533.6L1215 533.6L1216 533.5L1217 533.6L1218 533.7L1219 533.6L1220 533.6L1221 533.6L1222 533.6L1223 533.7L1224 533.7L1225 533.6L1226 533.6L1227 533.6L1228 533.6L1229 533.6L1230 533.7L1231 533.6L1232 533.6L1233 533.8L1234 533.7L1235 533.6L1236 533.6L1237 533.7L1238 533.6L1239 533.6L1240 533.7L1241 533.5L1242 533.6L1243 533.6L1244 533.6L1245 533.7L1246 533.8L1247 533.7L1248 533.6L1249 533.7L1250 533.6L1251 533.7L1252 533.6L1253 533.8L1254 533.6L1255 533.5L1256 533.7L1257 533.6L1258 533.5L1259 533.7L1260 533.5L1261 533.5L1262 533.7L1263 533.6L1264 533.6L1265 533.6L1266 533.7L1267 533.7L1268 533.8L1269 533.5L1270 533.7L1271 533.7L1272 533.7L1273 533.5L1274 533.7L1275 533.7L1276 533.7L1277 533.7L1278 533.6L1279 533.6L1280 533.7L1281 533.7L1282 533.7L1283 533.7L1284 533.7L1285 533.7L1286 533.7L1287 533.7L1288 533.7L1289 533.8L1290 533.8L1291 533.7L1292 533.7L1293 533.7L1294 533.8L1295 533.7L1296 533.5L1297 533.8L1298 533.7L1299 533.7L1300 533.7L1301 533.7L1302 533.5L1303 533.7L1304 533.6L1305 533.7L1306 533.7L1307 533.6L1308 533.7L1309 533.7L1310 533.8L1311 533.5L1312 533.6L1313 533.7L1314 533.7L1315 533.7L1316 533.7L1317 533.7L1318 533.7L1319 533.7L1320 533.7L1321 533.7L1322 533.8L1323 533.7L1324 533.7L1325 533.7L1326 533.7L1327 533.7L1328 533.7L1329 533.7L1330 533.8L1331 533.7L1332 533.7L1333 533.5L1334 533.7L1335 533.8L1336 533.7L1337 533.7L1338 533.7L1339 533.7L1340 533.7L1341 533.7L1342 533.6L1343 533.7L1344 533.8L1345 533.9L1346 533.6L1347 533.8L1348 533.7L1349 533.8L1350 533.8L1351 533.7L1352 533.7L1353 533.7L1354 533.7L1355 533.7L1356 533.7L1357 533.8L1358 533.7L1359 533.8L1360 533.7L1361 533.7L1362 533.7L1363 533.9L1364 533.7L1365 533.7L1366 533.7L1367 533.6L1368 533.7L1369 533.8L1370 533.9L1371 533.6L1372 533.7L1373 533.8L1374 533.7L1375 533.7L1376 533.7L1377 533.7L1378 533.8L1379 533.7L1380 533.6L1381 533.7L1382 533.7L1383 533.7L1384 533.7L1385 533.8L1386 533.7L1387 533.7L1388 533.7L1389 533.7L1390 533.7L1391 533.7L1392 533.7L1393 533.7L1394 533.6L1395 533.8L1396 533.6L1397 533.9L1398 533.8L1399 533.6L1400 533.7L1401 533.7L1402 533.7L1403 533.9L1404 533.8L1405 533.7L1406 533.8L1407 533.7L1408 533.7L1409 533.9L1410 533.9L1411 533.8L1412 533.7L1413 533.7L1414 533.7L1415 533.6L1416 533.7L1417 533.8L1418 533.8L1419 533.6L1420 533.8L1421 533.7L1422 533.9L1423 533.9L1424 533.7L1425 533.7L1426 533.7L1427 533.7L1428 533.9L1429 533.8L1430 533.8L1431 533.9L1432 533.8L1433 533.7L1434 533.8L1435 533.7L1436 533.7L1437 533.8L1438 533.9L1439 533.8L1440 533.8L1441 533.6L1442 533.8L1443 533.8L1444 533.7L1445 533.6L1446 533.7L1447 533.8L1448 533.8L1449 533.7L1450 533.7L1451 533.8L1452 533.7L1453 533.8L1454 533.7L1455 533.8L1456 533.8L1457 533.8L1458 533.8L1459 533.8L1460 533.8L1461 533.8L1462 533.8L1463 533.6L1464 533.9L1465 533.7L1466 533.8L1467 533.8L1468 533.8L1469 533.8L1470 533.9L1471 533.8L1472 533.8L1473 533.8L1474 533.8L1475 533.8L1476 533.7L1477 533.8L1478 533.8L1479 533.8L1480 533.7L1481 533.9L1482 533.8L1483 533.8L1484 533.7L1485 533.8L1486 533.8L1487 533.8L1488 533.8L1489 533.6L1490 533.8L1491 533.8L1492 533.8L1493 533.9L1494 533.8L1495 533.8L1496 533.7L1497 534L1498 533.8L1499 533.8L1500 533.8L1501 533.8L1502 533.8L1503 533.8L1504 533.8"/>
<path stroke="#008080" d="M114 343.8L115 343.6L116 343.6L117 343.7L118 343.7L119 343.7L120 343.7L121 344.1L122 343.4L123 343.8L124 343.7L125 343.8L126 344.1L127 343.6L128 343.7L129 343.7L130 343.7L131 343.8L132 343.7L133 343.8L134 343.2L135 343.8L136 343.7L137 343.7L138 343.8L139 343.9L140 343.7L141 343.8L142 343.6L143 344L144 343.7L145 343.8L146 343.7L147 343.8L148 343.7L149 343.6L150 343.2L151 343.3L152 343.7L153 343.9L154 343.2L155 343.6L156 343.7L157 343.8L158 343.9L159 343.7L160 343.8L161 343.8L162 343.8L163 343.8L164 343.7L165 343.6L166 343.7L167 343.6L168 344L169 343.7L170 343.7L171 343.7L172 343.8L173 343.9L174 343.8L175 343.6L176 343.7L177 343.6L178 343.7L179 344.2L180 343.3L181 343.8L182 343.8L183 343.7L184 343.8L185 343.6L186 343.7L187 343.8L188 343.8L189 343.8L190 343.8L191 343.7L192 343.7L193 343.7L194 343.7L195 343.7L196 344.1L197 343.7L198 343.8L199 343.7L200 343.8L201 343.6L202 344L203 343.7L204 343.4L205 343.8L206 343.7L207 343.8L208 343.7L209 343.2L210 344.1L211 343.8L212 343.7L213 343.7L214 343.7L215 343.8L216 343.8L217 343.7L218 344L219 343.7L220 343.4L221 343.7L222 343.7L223 344.3L224 343.8L225 343.9L226 343.8L227 343.2L228 344.1L229 343.8L230 343.3L231 343.8L232 343.3L233 343.8L234 344.3L235 343.7L236 343.3L237 343.7L238 343.7L239 343.8L240 343.8L241 343.7L242 343.7L243 343.8L244 343.7L245 343.7L246 343.8L247 343.8L248 343.8L249 343.3L250 343.8L251 343.8L252 343.7L253 343.3L254 343.7L255 343.8L256 343.8L257 343.8L258 343.3L259 343.8L260 344.3L261 343.7L262 343.7L263 343.8L264 343.7L265 343.8L266 343.8L267 343.7L268 343.8L269 343.8L270 343.8L271 343.8L272 343.9L273 343.8L274 343.6L275 343.8L276 343.8L277 343.8L278 343.8L279 343.6L280 343.8L281 343.2L282 343.6L283 343.8L284 343.2L285 344.3L286 343.8L287 344.2L288 343.8L289 343.2L290 343.7L291 344.1L292 343.7L293 343.4L294 343.8L295 343.6L296 343.3L297 343.2L298 343.8L299 343.8L300 343.8L301 343.7L302 343.7L303 343.7L304 343.7L305 343.9L306 343.3L307 343.6L308 343.7L309 344.2L310 344.3L311 343.4L312 343.8L313 343.9L314 343.7L315 343.7L316 343.6L317 343.3L318 343.7L319 343.3L320 343.8L321 343.8L322 343.7L323 343.1L324 343.8L325 344.3L326 343.1L327 343.1L328 343.6L329 343.6L330 343.7L331 344.1L332 343.9L333 343.7L334 343.7L335 343.6L336 343.4L337 343.6L338 343L339 343.4L340 343.4L341 343.4L342 343.4L343 343.4L344 343.4L344.5 343.4L344.75 343.4L345 343.1L345.25 343.1L345.5 343.1L345.75 343.1L346 343.3L346.25 343.3L346.5 343.3L346.75 343.3L347 343.1L347.25 343.1L347.5 343.1L347.75 343L348 343L348.25 342.9L348.5 342.9L348.75 342.9L349 342.8L349.25 342.8L349.5 342.7L349.75 342.7L350 342.1L350.25 342.1L350.5 342L350.75 342L351 342.8L351.25 342.8L351.5 342.7L351.75 342.6L352 342.3L352.25 342.2L352.5 342.1L352.75 342.1L353 341.4L353.25 341.3L353.5 341.2L353.75 341L354 341.6L354.25 341.4L354.5 341.3L354.75 341.1L355 340.6L355.25 340.4L355.5 340.2L355.75 339.9L356 339.9L356.25 339.5L356.5 339.1L356.75 338.5L357 337.5L357.25 336.7L357.5 335.8L357.75 334.5L358 333.5L358.25 331.7L358.5 329.5L358.75 326.8L359 322.9L359.25 319.2L359.5 315L359.75 310.1L360 305.3L360.25 299.4L360.5 293.2L360.75 286.7L361 280.1L361.25 273.7L361.5 267.7L361.75 262.6L362 258.1L362.25 255.5L362.5 254.6L362.75 255.5L363 258.1L363.25 262.1L363.5 267.3L363.75 273.2L364 280.1L364.25 286.6L364.5 293.1L364.75 299.4L365 305.1L365.25 310.5L365.5 315.3L365.75 319.6L366 323.5L366.25 326.6L366.5 329.3L366.75 331.5L367 333.4L367.25 334.9L367.5 336.1L367.75 337.1L368 337.8L368.25 338.5L368.5 339L368.75 339.4L369 339.8L369.25 340.1L369.5 340.3L369.75 340.6L370 340.9L370.25 341.1L370.5 341.2L370.75 341.4L371 340.8L371.25 341L371.5 341.1L371.75 341.2L372 341.9L372.25 342L372.5 342L372.75 342.1L373 342L373.25 342L373.5 342.1L373.75 342.1L374 341.8L374.25 341.8L374.5 341.9L374.75 341.9L375 342.3L375.25 342.3L375.5 342.3L375.75 342.3L376 341.9L376.25 341.9L376.5 341.9L376.75 341.8L377 342.3L377.25 342.3L377.5 342.3L377.75 342.3L378 342.6L378.25 342.6L378.5 342.6L378.75 342.6L379 342.2L379.25 342.2L379.5 342.3L379.75 342.3L380 342.4L380.25 342.4L380.5 342.5L380.75 342.5L381 342.7L381.25 342.7L381.75 342.8L382 342.7L382.25 342.7L382.75 342.8L383 343L383.25 343.1L383.75 343.1L384 343.1L384.25 343.2L384.75 343.2L385 343.4L385.25 343.4L385.75 343.4L386 342.9L386.25 342.9L386.75 342.9L387 342.9L387.25 342.9L387.75 342.9L388 343.3L388.25 343.3L388.75 343.3L389 343.4L389.25 343.4L389.75 343.4L390 343.4L390.25 343.4L390.75 343.4L391 343.4L391.25 343.4L391.75 343.4L392 343.4L392.25 343.4L392.75 343.4L393 343.4L393.25 343.4L393.75 343.4L394 343L394.25 343L394.75 343L395 343.4L395.25 343.4L395.75 343.4L396 343.9L396.25 343.9L396.75 343.9L397 343.4L397.25 343.3L397.75 343.3L398 343.5L398.25 343.5L398.75 343.4L399 343.1L399.25 343.1L399.75 342.9L400 342.8L400.25 342.7L400.75 342.5L401 342.1L401.25 341.9L401.75 341.5L402 340.8L402.25 340.6L402.75 340.1L403 340.5L403.25 340.2L403.5 339.9L403.75 339.6L404 339.2L404.25 338.9L404.5 338.6L404.75 338.4L405 338L405.25 337.7L405.5 337.5L405.75 337.3L406 337.2L406.25 337.1L406.5 337.1L406.7 337.1L406.75 337.1L407 337.2L407.25 337.2L407.5 337.4L407.75 337.5L408 337.7L408.25 337.9L408.5 338.1L408.75 338.4L409 338.7L409.25 339L409.5 339.3L409.75 339.6L410 339.4L410.25 339.7L410.5 340L410.75 340.2L411 340.9L411.25 341.2L411.5 341.4L411.75 341.6L412 341.4L412.25 341.6L412.5 341.8L412.75 341.9L413 342.9L413.25 343L413.5 343.1L413.75 343.2L414 342.8L414.25 342.8L414.5 342.9L414.75 343L415 343L415.25 343.1L415.5 343.1L415.75 343.1L416 343.3L416.25 343.3L416.5 343.3L416.75 343.3L417 343.3L417.25 343.3L417.5 343.3L417.75 343.4L418 343.7L418.25 343.8L418.5 343.8L418.75 343.8L419 343.4L419.25 343.4L419.5 343.4L419.75 343.4L420 343.2L420.25 343.2L420.5 343.2L420.75 343.2L421 343.3L421.25 343.3L421.5 343.3L421.75 343.3L422 343.2L422.25 343.2L422.5 343.2L422.75 343.2L423 343.3L423.25 343.3L423.5 343.3L423.75 343.3L424 343.2L424.25 343.2L424.5 343.2L424.75 343.2L425 343.2L425.25 343.1L425.5 343.1L425.75 343.1L426 343.4L426.25 343.4L426.5 343.4L426.75 343.4L427 343L427.25 342.9L427.5 342.9L427.75 342.8L428 342.8L428.25 342.7L428.5 342.7L428.75 342.6L429 342.5L429.25 342.4L429.5 342.3L429.75 342.2L430 341.7L430.25 341.6L430.5 341.4L430.75 341.3L431 341.5L431.25 341.3L431.5 341.1L431.75 340.9L432 340.8L432.25 340.6L432.5 340.4L432.75 340.2L433 339.9L433.25 339.7L433.5 339.5L433.75 339.3L434 339.3L434.25 339.1L434.5 339L434.75 338.9L435 338.9L435.25 338.8L435.5 338.7L435.6 338.7L435.75 338.7L436 338.6L436.25 338.6L436.5 338.7L436.75 338.7L437 338.7L437.25 338.8L437.5 338.9L437.75 339L438 339.1L438.25 339.2L438.5 339.3L438.75 339.4L439 339.4L439.25 339.5L439.5 339.6L439.75 339.6L440 339.8L440.25 339.8L440.5 339.7L440.75 339.7L441 339.8L441.25 339.6L441.5 339.4L441.75 339.2L442 338L442.25 337.6L442.5 337.2L442.75 336.6L443 336.5L443.25 335.8L443.5 334.9L443.75 334L444 332.4L444.25 331.2L444.5 329.9L444.75 328.4L445 327.3L445.25 325.5L445.5 323.6L445.75 321.6L446 319.5L446.25 317.2L446.5 314.9L446.75 312.5L447 310.1L447.25 307.5L447.5 305L447.75 302.4L448 299.9L448.25 297.5L448.5 295.2L448.75 293.1L449 291.6L449.25 290L449.5 288.6L449.75 287.6L450 286.6L450.25 286.3L450.3 286.3L450.5 286.5L450.75 287L451 287.7L451.25 288.9L451.5 290.4L451.75 292.3L452 294.4L452.25 296.6L452.5 299L452.75 301.5L453 303.4L453.25 306L453.5 308.5L453.75 311.1L454 314L454.25 316.4L454.5 318.7L454.75 320.9L455 323.4L455.25 325.3L455.5 327.2L455.75 328.8L456 330L456.25 331.4L456.5 332.7L456.75 333.9L457 335L457.25 336L457.5 336.8L457.75 337.5L458 338.1L458.25 338.6L458.5 339.1L458.75 339.6L459 339.9L459.25 340.2L459.5 340.5L459.75 340.7L460 340.8L460.25 341L460.5 341.2L460.75 341.3L461 341.8L461.25 341.9L461.5 342L461.75 342.1L462 342.6L462.25 342.7L462.5 342.7L462.75 342.8L463 342.4L463.25 342.4L463.5 342.5L463.75 342.5L464 342.8L464.25 342.8L464.5 342.9L464.75 342.9L465 342.8L465.25 342.8L465.5 342.8L465.75 342.9L466 342.8L466.25 342.9L466.5 342.9L466.75 342.9L467 343L467.25 343L467.5 343.1L467.75 343.1L468 343.1L468.25 343.2L468.5 343.2L468.75 343.2L469 343.1L469.25 343.1L469.5 343.2L469.75 343.2L470 343.1L470.25 343.1L470.5 343.1L470.75 343.2L471 343.3L471.25 343.3L471.5 343.3L471.75 343.4L472 343.3L472.25 343.3L472.5 343.4L472.75 343.4L473 343.3L473.25 343.3L473.5 343.3L473.75 343.3L474 343.4L474.25 343.4L474.5 343.4L474.75 343.4L475 343.5L475.25 343.5L475.5 343.5L475.75 343.5L476 343.4L476.25 343.4L476.5 343.4L476.75 343.4L477 343.6L477.25 343.6L477.5 343.6L477.75 343.6L478 343.9L478.25 343.9L478.5 343.9L478.75 343.9L479 343.6L479.25 343.6L479.5 343.6L479.75 343.6L480 343.6L480.25 343.6L480.5 343.6L480.75 343.6L481 343.7L482 343.6L483 343.6L484 343.8L485 343.8L486 343.7L487 343.6L488 343.7L489 343.7L490 343.9L491 343.7L492 343.7L493 343.8L494 343.4L495 344.2L496 343.2L497 343.8L498 343.9L499 343.8L500 343.9L501 343.7L502 343.8L503 343.9L504 343.4L505 343.7L506 343.7L507 343.7L508 343.6L509 343.3L510 342.7L511 342.2L512 342L513 341.6L513.8 341.5L514 341.5L515 342.2L516 342.3L517 342.9L518 343.2L519 343.5L520 343.3L521 343.8L522 343.8L523 343.9L524 343.8L525 343.9L526 344.4L527 343.9L528 343.8L529 343.9L530 343.9L531 343.9L532 343.9L533 344.3L534 343.8L535 343.9L536 343.8L537 343.9L538 343.9L539 343.9L540 343.9L541 344L542 343.9L543 344L544 343.4L545 343.8L546 344.2L547 343.6L548 344L549 343.9L550 343.9L551 343.8L552 343.9L553 343.5L554 343.5L555 343.9L556 343.9L557 344L558 344L559 344.4L560 344L561 343.9L562 343.9L563 344L564 344.1L565 343.5L566 343.9L567 344L568 343.4L569 343.9L570 344.1L571 343.9L572 344.1L573 343.9L574 343.9L575 343.9L576 343.8L577 344.1L578 343.9L579 343.9L580 344.1L581 343.8L582 343.9L583 343.9L584 343.9L585 343.9L586 344L587 344.5L588 343.9L589 344.5L590 343.9L591 344.1L592 344L593 344L594 344L595 344.4L596 343.9L597 344.1L598 344L599 343.9L600 343.9L601 344L602 344L603 343.8L604 343.6L605 343.9L606 344L607 343.6L608 344L609 343.9L610 344.4L611 343.9L612 344.5L613 344L614 344.1L615 343.9L616 344L617 343.9L618 344.5L619 343.9L620 344.5L621 344.1L622 344.4L623 344L624 343.9L625 344.1L626 343.6L627 344.5L628 344.1L629 343.9L630 343.8L631 344L632 344L633 344.5L634 343.9L635 344.1L636 344L637 344.1L638 344L639 343.5L640 344.1L641 344L642 343.8L643 344.3L644 344L645 344L646 343.9L647 343.9L648 343.8L649 343.9L650 344.3L651 344L652 344.3L653 343.8L653.25 343.8L653.75 343.8L654 344.3L654.25 344.3L654.75 344.2L655 344L655.25 344L655.75 344L656 343.9L656.25 343.9L656.75 343.9L657 343.9L657.25 343.9L657.75 343.9L658 344.4L658.25 344.4L658.75 344.4L659 344L659.25 344L659.75 344L660 343.9L660.25 343.9L660.75 343.9L661 343.9L661.25 343.9L661.75 343.8L662 343.4L662.25 343.4L662.75 343.4L663 343.3L663.25 343.3L663.75 343.2L664 343.8L664.25 343.8L664.75 343.8L665 343.8L665.25 343.7L665.75 343.7L666 343.6L666.25 343.5L666.75 343.4L667 343.1L667.25 343L667.75 342.5L668 342.3L668.25 341.9L668.75 340.8L669 340L669.25 339.2L669.75 337.1L670 335.7L670.25 334.3L670.75 331.1L671 329.5L671.25 327.7L671.75 324.4L672 322.9L672.25 321.5L672.75 319.6L673 318.9L673.2 318.8L673.25 318.8L673.75 319.6L674 320.9L674.25 322.1L674.75 325.1L675 326.8L675.25 328.6L675.75 331.9L676 334L676.25 335.5L676.75 338.1L677 338.6L677.25 339.5L677.75 341L678 341.5L678.25 342L678.75 342.7L679 343L679.25 343.2L679.75 343.4L680 343.5L680.25 343.5L680.75 343.6L681 343.6L681.25 343.7L681.75 343.7L682 343.7L682.25 343.7L682.75 343.7L683 343.8L683.25 343.8L683.75 343.9L684 343.4L684.25 343.4L684.75 343.4L685 343.8L685.25 343.8L685.75 343.8L686 343.8L686.25 343.9L686.75 343.9L687 343.9L687.25 343.9L687.75 344L688 344.3L688.25 344.3L688.75 344.3L689 343.9L689.25 343.9L689.75 343.9L690 344.1L690.25 344.1L690.75 344.1L691 344L691.25 344L691.75 344L692 343.9L692.25 343.9L692.75 343.9L693 344L693.25 344L694 344L695 344.6L696 343.9L697 344.4L698 344L699 344L700 344L701 344L702 344.1L703 344.5L704 344L705 344L706 343.8L707 344.1L708 344L709 344L710 343.8L711 344.2L712 344L713 343.9L714 344.1L715 344.1L716 344.1L717 344L718 344L719 343.9L720 343.9L721 344.1L722 344L723 344L724 344.1L725 343.6L726 344L727 343.5L728 344.1L729 344L730 344.1L731 344.4L732 344.1L733 344.1L734 344L735 344.4L736 344L737 344.2L738 344.1L739 344.1L740 344.1L741 344L742 343.9L743 344.1L744 344L745 344L746 344L747 344.1L748 344.1L749 344.1L750 344.1L751 344.2L752 344.1L753 343.9L754 343.7L755 344L756 344.2L757 344.5L758 344L759 344.1L760 344.7L761 344.1L762 344L763 344.5L764 344.1L765 343.6L766 344.1L767 343.6L768 344L769 344L770 344L771 344L772 344.6L773 344L774 344.1L775 344.1L776 344.1L777 343.9L778 344.1L779 344.2L780 343.9L781 344.1L782 344.1L783 344.1L784 344.2L785 344.1L786 344.1L787 344L788 343.9L789 344L790 344.2L791 344.2L792 344.4L793 344.1L794 343.7L795 343.6L796 344.1L797 344L798 344.1L799 344.6L800 344.2L801 344L802 344.1L803 343.6L804 344.1L805 344L806 344.4L807 344.1L808 344.1L809 344.1L810 344.1L811 344.5L812 344.1L813 344.1L814 344L815 344L816 344.1L817 344.5L818 344L819 344.7L820 344.1L821 344.1L822 344.1L823 343.9L824 344L825 344.1L826 344L827 344L828 344L829 344.2L830 344.2L831 344.1L832 344.2L833 344.1L834 344.1L835 344.1L836 344.1L837 344L838 344.4L839 343.9L840 343.7L841 343.5L842 343.2L843 343.1L844 342.5L844.6 342.5L845 343.1L846 343.2L847 343.2L848 343.5L849 343.7L850 343.7L851 344L852 343.5L853 344.1L854 344L855 344.2L856 344.1L857 344.1L858 344.1L859 343.8L860 344.1L861 344L862 344.1L863 344L864 343.7L865 344.1L866 344.1L867 344L868 344.1L869 344.2L870 344.5L871 344.1L872 344.2L873 344.1L874 344L875 344.2L876 344.1L877 344.7L878 344L879 344.5L880 344.2L881 344.1L882 344.1L883 344.1L884 344.2L885 344L886 344.2L887 344.2L888 344.1L889 344.1L890 344.1L891 344.1L892 344.1L893 343.7L894 344.1L895 344.3L896 344.2L897 344.1L898 344.6L899 344.1L900 343.7L901 344.2L902 344.1L903 344.1L904 344.1L905 344.3L906 344.2L907 344.2L908 344.1L909 344.1L910 343.5L911 344.2L912 343.6L913 344.1L914 343.9L915 344.7L916 344.6L917 344.1L918 344.1L919 344.1L920 344.1L921 344.2L922 343.7L923 344.1L924 344.1L925 344.2L926 344.1L927 344.6L928 344.1L929 344.2L930 344.2L931 343.6L932 344.1L933 344.1L934 344L935 344L936 344.2L937 344.4L938 344.1L939 344.1L940 344.2L941 344.1L942 343.8L943 343.6L944 344.2L945 344.1L946 343.5L947 344.1L947.5 344.1L947.75 344.1L948 344.4L948.25 344.4L948.5 344.4L948.75 344.4L949 344L949.25 344L949.5 344L949.75 344L950 344L950.25 344L950.5 344L950.75 344L951 344.1L951.25 344.1L951.5 344.1L951.75 344.1L952 344L952.25 344L952.5 344L952.75 344L953 343.9L953.25 343.9L953.5 343.9L953.75 343.9L954 344L954.25 344L954.5 344L954.75 344L955 344L955.25 344L955.5 344L955.75 344L956 343.9L956.25 343.9L956.5 343.9L956.75 343.9L957 344L957.25 344L957.5 344L957.75 344L958 344L958.25 344L958.5 344L958.75 344L959 343.4L959.25 343.4L959.5 343.4L959.75 343.4L960 343.8L960.25 343.8L960.5 343.8L960.75 343.8L961 343.5L961.25 343.4L961.5 343.4L961.75 343.4L962 343.9L962.25 343.9L962.5 343.9L962.75 343.8L963 343.7L963.25 343.7L963.5 343.7L963.75 343.7L964 344.1L964.25 344.1L964.5 344.1L964.75 344.1L965 343.7L965.25 343.6L965.5 343.6L965.75 343.6L966 343L966.25 342.9L966.5 342.9L966.75 342.9L967 342.8L967.25 342.8L967.5 342.8L967.75 342.7L968 343.2L968.25 343.1L968.5 343L968.75 342.9L969 342.8L969.25 342.7L969.5 342.5L969.75 342.3L970 341.9L970.25 341.6L970.5 341.2L970.75 340.7L971 340.3L971.25 339.6L971.5 338.8L971.75 337.9L972 336.8L972.25 335.5L972.5 334L972.75 332.4L973 330.6L973.25 328.5L973.5 326.1L973.75 323.5L974 320.7L974.25 317.7L974.5 314.5L974.75 311.1L975 307.5L975.25 303.9L975.5 300.3L975.75 296.7L976 293.5L976.25 290.2L976.5 287.1L976.75 284.4L977 281.9L977.25 279.9L977.5 278.5L977.75 277.6L978 277.9L978.25 278L978.5 278.5L978.75 279.3L979 279.9L979.25 281.2L979.5 282.8L979.75 284.7L980 286.8L980.25 289L980.5 291.4L980.75 293.8L981 296.5L981.25 299.1L981.5 301.7L981.75 304.4L982 307.4L982.25 310L982.5 312.5L982.75 315L983 317L983.25 319.2L983.5 321.4L983.75 323.5L984 325L984.25 326.8L984.5 328.5L984.75 330.1L985 331.7L985.25 333L985.5 334.2L985.75 335.2L986 335.7L986.25 336.6L986.5 337.4L986.75 338.1L987 339.2L987.25 339.7L987.5 340.2L987.75 340.6L988 341.1L988.25 341.5L988.5 341.7L988.75 342L989 342.1L989.25 342.3L989.5 342.5L989.75 342.6L990 342.7L990.25 342.8L990.5 342.9L990.75 343L991 343.1L991.25 343.1L991.5 343.2L991.75 343.2L992 343.2L992.25 343.2L992.5 343.3L992.75 343.3L993 343.4L993.25 343.4L993.5 343.4L993.75 343.5L994 343.5L994.25 343.5L994.5 343.5L994.75 343.5L995 343.6L995.25 343.6L995.5 343.6L995.75 343.7L996 343.6L996.25 343.6L996.5 343.7L996.75 343.7L997 343.6L997.25 343.6L997.5 343.6L997.75 343.6L998 343.7L998.25 343.7L998.5 343.7L998.75 343.7L999 343.7L999.25 343.8L999.5 343.8L999.75 343.8L1000 343.8L1000.25 343.8L1000.5 343.8L1000.75 343.8L1001 343.8L1001.25 343.8L1001.5 343.8L1001.75 343.8L1002 343.9L1002.25 343.9L1002.5 344L1002.75 344L1003 343.8L1003.25 343.8L1003.5 343.8L1003.75 343.8L1004 343.9L1004.25 343.9L1004.5 343.9L1004.75 343.9L1005 344L1005.25 344L1005.5 344L1005.75 344L1006 344L1006.25 344L1006.5 344.1L1006.75 344.1L1007 344L1007.25 344L1007.5 344L1007.75 344L1008 344L1008.25 344L1009 344.5L1010 344L1011 344L1012 343.6L1013 343.6L1014 344L1015 344L1016 344.6L1017 344.1L1018 343.9L1019 344.1L1020 344.2L1021 343.6L1022 344.1L1023 344.1L1024 343.6L1025 344.1L1026 344.2L1027 344.1L1028 344.2L1028.25 344.2L1028.75 344.2L1029 344.1L1029.25 344.1L1029.75 344.1L1030 344.1L1030.25 344.1L1030.75 344.1L1031 344.1L1031.25 344.1L1031.75 344.1L1032 344.1L1032.25 344.1L1032.75 344.1L1033 344L1033.25 344L1033.75 344L1034 344L1034.25 344L1034.75 344L1035 344.6L1035.25 344.6L1035.75 344.6L1036 344L1036.25 344L1036.75 344L1037 344.2L1037.25 344.2L1037.75 344.2L1038 344.1L1038.25 344.1L1038.75 344.1L1039 344.1L1039.25 344.1L1039.75 344.1L1040 344.1L1040.25 344.1L1040.75 344.1L1041 344.1L1041.25 344.1L1041.75 344.1L1042 344.2L1042.25 344.2L1042.75 344.2L1043 344L1043.25 344L1043.75 344L1044 344.2L1044.25 344.2L1044.75 344.2L1045 344.2L1045.25 344.2L1045.75 344.2L1046 344.1L1046.25 344.1L1046.75 344.1L1047 344.2L1047.25 344.2L1047.75 344.2L1048 344.1L1048.25 344.1L1048.75 344.1L1049 344L1049.25 344L1049.75 344L1050 344L1050.25 344L1050.75 344L1051 344L1051.25 344L1051.75 344L1052 344L1052.25 343.9L1052.75 343.9L1053 343.8L1053.25 343.8L1053.75 343.7L1054 343.7L1054.25 343.6L1054.75 343.4L1055 343.3L1055.25 343.2L1055.75 343L1056 342.4L1056.25 342.2L1056.75 341.9L1057 342.3L1057.25 342.1L1057.75 341.7L1058 341.5L1058.25 341.2L1058.75 340.8L1059 340.5L1059.25 340.3L1059.75 339.9L1060 339.9L1060.25 339.7L1060.75 339.3L1061 339.1L1061.25 338.9L1061.75 338.8L1062 338.8L1062.25 338.8L1062.3 338.8L1062.75 338.8L1063 338.9L1063.25 339L1063.75 339.2L1064 339.4L1064.25 339.5L1064.75 339.9L1065 339.8L1065.25 340L1065.75 340.4L1066 340.9L1066.25 341.2L1066.75 341.6L1067 341.9L1067.25 342.1L1067.75 342.4L1068 342.7L1068.25 342.8L1068.75 343.1L1069 343L1069.25 343.1L1069.75 343.3L1070 343.4L1070.25 343.5L1070.75 343.6L1071 343.7L1071.25 343.8L1071.75 343.9L1072 343.9L1072.25 343.9L1072.75 343.9L1073 344L1073.25 344L1073.75 344L1074 343.9L1074.25 343.9L1074.75 343.9L1075 343.9L1075.25 343.9L1075.75 343.9L1076 344L1076.25 344L1076.75 344L1077 344.2L1077.25 344.2L1077.75 344.2L1078 344L1078.25 344L1078.75 344L1079 344L1079.25 344L1079.75 344.1L1080 344.2L1080.25 344.2L1080.75 344.2L1081 344.1L1081.25 344.1L1081.75 344.1L1082 344.2L1082.25 344.2L1082.75 344.2L1083 344.2L1083.25 344.2L1083.75 344.2L1084 344.2L1084.25 344.2L1084.5 344.2L1084.75 344.2L1085 344.4L1085.25 344.4L1085.5 344.4L1085.75 344.4L1086 344.1L1086.25 344.1L1086.5 344.1L1086.75 344.1L1087 344.1L1087.25 344.1L1087.5 344.1L1087.75 344.1L1088 344.1L1088.25 344.1L1088.5 344.1L1088.75 344.1L1089 344.6L1089.25 344.6L1089.5 344.6L1089.75 344.6L1090 344.1L1090.25 344.1L1090.5 344.1L1090.75 344.1L1091 344.6L1091.25 344.6L1091.5 344.6L1091.75 344.6L1092 344.1L1092.25 344.1L1092.5 344.1L1092.75 344.1L1093 343.6L1093.25 343.6L1093.5 343.6L1093.75 343.6L1094 343.9L1094.25 343.9L1094.5 343.9L1094.75 343.9L1095 344.1L1095.25 344.1L1095.5 344.1L1095.75 344.1L1096 344.1L1096.25 344.1L1096.5 344.1L1097 344.1L1097.5 344L1098 344L1098.5 344L1099 344.1L1099.5 344.1L1100 344L1100.5 344L1101 343.9L1101.5 343.9L1102 344.5L1102.5 344.5L1103 343.4L1103.5 343.4L1104 344L1104.5 343.9L1105 343.9L1105.5 343.9L1106 343.5L1106.5 343.4L1107 344.1L1107.5 344L1108 343.5L1108.5 343.4L1109 343.8L1109.5 343.6L1110 342.8L1110.5 342.5L1111 342.1L1111.5 341.6L1112 341L1112.5 340.4L1113 339.6L1113.5 338.7L1114 337.7L1114.5 336.6L1115 335.5L1115.5 334.4L1116 333.3L1116.5 332.2L1117 331.1L1117.5 330.4L1118 329.8L1118.5 329.6L1118.6 329.6L1119 329.7L1119.5 330.1L1120 330.9L1120.5 331.8L1121 332.7L1121.5 333.9L1122 335L1122.5 336.2L1123 337.4L1123.5 338.4L1124 339.3L1124.5 340.1L1125 340.9L1125.5 341.5L1126 342.5L1126.5 342.9L1127 342.8L1127.5 343L1128 343.2L1128.5 343.3L1129 343.4L1129.5 343.5L1130 343.7L1130.5 343.8L1131 343.8L1131.5 343.8L1132 343.9L1132.5 344L1133 343.9L1133.5 343.9L1134 343.9L1134.5 343.9L1135 344.1L1135.5 344.1L1136 344.1L1136.5 344.1L1137 344.1L1137.5 344.1L1138 344L1138.5 344L1139 344L1139.5 344L1140 344.2L1140.5 344.2L1141 344.1L1141.5 344.2L1142 344.1L1142.5 344.1L1143 344.3L1143.5 344.3L1144 344.2L1144.5 344.2L1145 344.2L1145.5 344.2L1146 344L1146.5 344L1147 344.1L1147.5 344.1L1148 344.2L1148.5 344.2L1149 344.5L1149.5 344.5L1150 344.2L1150.5 344.2L1151 344.2L1151.5 344.2L1152 344.2L1152.5 344.2L1153 344.2L1154 344.2L1155 344.2L1156 344.2L1157 344.2L1158 344.3L1159 344.4L1160 344.2L1161 344.3L1162 344.3L1163 344.2L1164 344.2L1165 344.3L1166 344.3L1167 344.3L1168 344.3L1169 344.3L1170 344.3L1171 344.3L1172 344.3L1173 344.3L1174 344.3L1175 344.3L1176 344.3L1177 344.3L1178 344.3L1179 344.2L1180 344.4L1181 344.3L1182 344.3L1183 344.3L1184 344.3L1185 344.3L1186 344.3L1187 344.1L1188 344.3L1189 344.4L1190 344.3L1191 344.3L1192 344.3L1193 344.3L1194 344.3L1195 344.3L1196 344.2L1197 344.3L1198 344.3L1199 344.3L1200 344.3L1201 344.3L1202 344.3L1203 344.3L1204 344.3L1205 344.3L1206 344.5L1207 344.3L1208 344.2L1209 344.4L1210 344.3L1211 344.3L1212 344.3L1213 344.3L1214 344.3L1215 344.3L1216 344.3L1217 344.3L1218 344.3L1219 344.3L1220 344.3L1221 344.3L1222 344.5L1223 344.3L1224 344.3L1225 344.3L1226 344.3L1227 344.3L1228 344.3L1229 344.5L1230 344.4L1231 344.3L1232 344.3L1233 344.3L1234 344.2L1235 344.3L1236 344.3L1237 344.4L1238 344.5L1239 344.2L1240 344.2L1241 344.3L1242 344.4L1243 344.3L1244 344.4L1245 344.3L1246 344.5L1247 344.2L1248 344.3L1249 344.5L1250 344.4L1251 344.3L1252 344.2L1253 344.2L1254 344.3L1255 344.3L1256 344.4L1257 344.3L1258 344.4L1259 344.3L1260 344.4L1261 344.4L1262 344.3L1263 344.3L1264 344.2L1265 344.4L1266 344.3L1267 344.5L1268 344.4L1269 344.4L1270 344.4L1271 344.3L1272 344.3L1273 344.5L1274 344.4L1275 344.4L1276 344.4L1277 344.3L1278 344.3L1279 344.3L1280 344.3L1281 344.4L1282 344.3L1283 344.4L1284 344.4L1285 344.5L1286 344.4L1287 344.4L1288 344.3L1289 344.2L1290 344.4L1291 344.3L1292 344.4L1293 344.4L1294 344.4L1295 344.4L1296 344.3L1297 344.4L1298 344.3L1299 344.3L1300 344.3L1301 344.4L1302 344.3L1303 344.4L1304 344.3L1305 344.4L1306 344.4L1306.5 344.4L1307 344.3L1307.5 344.3L1308 344.3L1308.5 344.3L1309 344.3L1309.5 344.3L1310 344.3L1310.5 344.3L1311 344.3L1311.5 344.3L1312 344.4L1312.5 344.4L1313 344.3L1313.5 344.3L1314 344.3L1314.5 344.3L1315 344.3L1315.5 344.3L1316 344.3L1316.5 344.3L1317 344.3L1317.5 344.3L1318 344.4L1318.5 344.4L1319 344.3L1319.5 344.3L1320 344.2L1320.5 344.2L1321 344.3L1321.5 344.3L1322 344.3L1322.5 344.3L1323 344.3L1323.5 344.3L1324 344.3L1324.5 344.3L1325 344.3L1325.5 344.3L1326 344.3L1326.5 344.3L1327 344.4L1327.5 344.4L1328 344.2L1328.5 344.2L1329 344.2L1329.5 344.2L1330 344.2L1330.5 344.2L1331 344.2L1331.5 344.2L1332 344.2L1332.5 344.2L1333 344.1L1333.5 344L1334 344.1L1334.5 344L1335 343.8L1335.5 343.7L1336 343.5L1336.5 343.4L1337 343.3L1337.5 343.1L1338 342.9L1338.5 342.6L1339 342.3L1339.5 342L1340 341.6L1340.5 341.2L1341 340.7L1341.5 340.2L1342 339.6L1342.5 339.1L1343 338.8L1343.5 338.3L1344 337.8L1344.5 337.5L1345 337.4L1345.5 337.3L1345.9 337.2L1346 337.2L1346.5 337.3L1347 337.5L1347.5 337.8L1348 338L1348.5 338.4L1349 339L1349.5 339.5L1350 339.8L1350.5 340.3L1351 340.9L1351.5 341.3L1352 341.7L1352.5 342.1L1353 342.6L1353.5 342.9L1354 343L1354.5 343.2L1355 343.3L1355.5 343.4L1356 343.7L1356.5 343.8L1357 343.9L1357.5 343.9L1358 344L1358.5 344.1L1359 344.3L1359.5 344.3L1360 344.2L1360.5 344.2L1361 344.1L1361.5 344.1L1362 344.1L1362.5 344.1L1363 344.2L1363.5 344.2L1364 344.1L1364.5 344.1L1365 344.2L1365.5 344.3L1366 344.3L1366.5 344.3L1367 344.4L1367.5 344.4L1368 344.3L1368.5 344.3L1369 344.3L1369.5 344.3L1370 344.4L1370.5 344.4L1371 344.4L1371.5 344.4L1372 344.3L1372.5 344.3L1373 344.4L1373.5 344.4L1374 344.4L1374.5 344.4L1375 344.5L1375.5 344.5L1376 344.4L1376.5 344.4L1377 344.4L1377.5 344.4L1378 344.4L1378.5 344.4L1379 344.4L1379.5 344.4L1380 344.4L1380.5 344.4L1381 344.4L1381.5 344.4L1382 344.4L1382.5 344.4L1383 344.4L1383.5 344.4L1384 344.5L1384.5 344.5L1385 344.4L1385.5 344.4L1386 344.4L1387 344.4L1388 344.2L1389 344.4L1390 344.4L1391 344.5L1392 344.4L1393 344.3L1394 344.4L1395 344.2L1396 344.4L1397 344.4L1398 344.4L1399 344.4L1400 344.3L1401 344.6L1402 344.4L1403 344.4L1404 344.3L1405 344.4L1406 344.4L1407 344.4L1408 344.5L1409 344.3L1410 344.5L1411 344.4L1412 344.4L1413 344.4L1414 344.5L1415 344.4L1416 344.5L1417 344.4L1418 344.6L1419 344.6L1420 344.4L1421 344.4L1422 344.5L1423 344.5L1424 344.6L1425 344.4L1426 344.4L1427 344.5L1428 344.3L1429 344.5L1430 344.3L1431 344.4L1432 344.5L1433 344.4L1434 344.6L1435 344.4L1436 344.6L1437 344.5L1438 344.4L1439 344.4L1440 344.5L1441 344.5L1442 344.5L1443 344.5L1444 344.6L1445 344.5L1446 344.5L1447 344.5L1448 344.5L1449 344.5L1450 344.5L1451 344.6L1452 344.4L1453 344.5L1454 344.5L1455 344.4L1456 344.5L1457 344.5L1458 344.5L1459 344.5L1460 344.5L1461 344.5L1462 344.4L1463 344.5L1464 344.5L1465 344.5L1466 344.6L1467 344.3L1468 344.5L1469 344.3L1470 344.5L1471 344.5L1472 344.4L1473 344.5L1474 344.5L1475 344.5L1476 344.5L1477 344.5L1478 344.5L1479 344.5L1480 344.3L1481 344.5L1482 344.5L1483 344.5L1484 344.5L1485 344.5L1486 344.6L1487 344.5L1488 344.5L1489 344.5L1490 344.5L1491 344.5L1492 344.5L1493 344.5L1494 344.5L1495 344.5L1496 344.5L1497 344.5L1498 344.5L1499 344.5L1500 344.5L1501 344.5L1502 344.5L1503 344.4L1504 344.5"/>
</g>
<g fill="#000" filter="url(#px2)">
<circle cx="359.9" cy="864.9" r="8.1"/>
<circle cx="406.9" cy="917.9" r="8.1"/>
<circle cx="452.9" cy="809.0" r="8.1"/>
<circle cx="677.0" cy="737.7" r="8.1"/>
<circle cx="866.0" cy="939.9" r="8.1"/>
<circle cx="983.0" cy="946.9" r="8.1"/>
<circle cx="1119.0" cy="932.9" r="8.1"/>
<circle cx="367.0" cy="669.0" r="8.1"/>
<circle cx="409.9" cy="665.9" r="8.1"/>
<circle cx="460.0" cy="572.9" r="8.1"/>
<circle cx="681.0" cy="647.7" r="8.1"/>
<circle cx="869.1" cy="644.8" r="8.1"/>
<circle cx="982.8" cy="615.7" r="8.1"/>
<circle cx="1100.9" cy="676.9" r="8.1"/>
<circle cx="1349.8" cy="680.0" r="8.1"/>
<circle cx="363.8" cy="453.1" r="8.1"/>
<circle cx="403.0" cy="499.0" r="8.1"/>
<circle cx="448.9" cy="370.9" r="8.1"/>
<circle cx="677.0" cy="487.9" r="8.1"/>
<circle cx="865.8" cy="464.1" r="8.1"/>
<circle cx="979.9" cy="406.7" r="8.1"/>
<circle cx="1089.7" cy="499.2" r="8.1"/>
<circle cx="363.9" cy="221.9" r="8.1"/>
<circle cx="409.9" cy="321.0" r="8.1"/>
<circle cx="442.0" cy="267.8" r="8.1"/>
<circle cx="680.9" cy="289.0" r="8.1"/>
<circle cx="982.8" cy="270.9" r="8.1"/>
<circle cx="1119.0" cy="306.7" r="8.1"/>
<circle cx="1353.8" cy="317.5" r="8.1"/>
<circle cx="1271.8" cy="50.1" r="8.1"/>
<polygon points="426.5,921.0 437.0,934.5 426.5,948.0 416.0,934.5"/>
<polygon points="433.5,656.9 444.0,670.4 433.5,683.9 423.0,670.4"/>
<polygon points="429.5,489.9 440.0,503.4 429.5,516.9 419.0,503.4"/>
<polygon points="1270.3,105.7 1280.8,119.2 1270.3,132.7 1259.8,119.2"/>
<path d="M462.70 421.10 C459.02 413.30 451.20 409.14 451.20 401.60 C451.20 396.92 453.50 395.10 456.49 395.10 C459.48 395.10 461.55 397.18 462.70 401.60 C463.85 397.18 465.92 395.10 468.91 395.10 C471.90 395.10 474.20 396.92 474.20 401.60 C474.20 409.14 466.38 413.30 462.70 421.10Z"/>
<path d="M466.50 286.00 C462.82 278.20 455.00 274.04 455.00 266.50 C455.00 261.82 457.30 260.00 460.29 260.00 C463.28 260.00 465.35 262.08 466.50 266.50 C467.65 262.08 469.72 260.00 472.71 260.00 C475.70 260.00 478.00 261.82 478.00 266.50 C478.00 274.04 470.18 278.20 466.50 286.00Z"/>
<path d="M1270.30 207.90 C1266.62 200.10 1258.80 195.94 1258.80 188.40 C1258.80 183.72 1261.10 181.90 1264.09 181.90 C1267.08 181.90 1269.15 183.98 1270.30 188.40 C1271.45 183.98 1273.52 181.90 1276.51 181.90 C1279.50 181.90 1281.80 183.72 1281.80 188.40 C1281.80 195.94 1273.98 200.10 1270.30 207.90Z"/>
</g>
<g filter="url(#px)">
<g class="s" font-size="50" text-anchor="middle" letter-spacing="1">
<text x="115.0" y="1102">20</text>
<text x="313.4" y="1102">30</text>
<text x="511.7" y="1102">40</text>
<text x="710.1" y="1102">50</text>
<text x="908.4" y="1102">60</text>
<text x="1106.8" y="1102">70</text>
<text x="1305.1" y="1102">80</text>
<text x="1503.5" y="1102">90</text>
</g>
</g>
<g class="r" font-size="54" filter="url(#px2)">
<text x="682.1" y="1193">2<tspan class="g" font-size="45.2" x="709.8" y="1193.3">θ</tspan><tspan x="736.2" y="1193">(degrees)</tspan></text>
<text transform="translate(60.5 715.5) rotate(-90)" letter-spacing="0.75">Intensity(a.u.)</text>
</g>
<g filter="url(#px)">
<g class="s">
<text font-size="55.5" x="1399" y="323.3">C3</text>
<text font-size="55.5" x="1388.5" y="505">C2</text>
<text font-size="55.5" x="1391.6" y="690.3">C1</text>
<text font-size="50.5" x="1395.7" y="934">BM</text>
</g>
<g class="s" font-size="50">
<text x="1296.3" y="69.6"><tspan class="g" font-size="43">α</tspan><tspan x="1324.7" y="70">-</tspan><tspan x="1339.1" font-size="51">Mg</tspan></text>
<text x="1302.3" y="144">Mg<tspan font-size="30" x="1373.9" y="164">17</tspan><tspan x="1405.4" y="144">Al</tspan><tspan font-size="30" x="1450.4" y="164">12</tspan></text>
<text x="1299.3" y="212">Mg<tspan font-size="30" x="1368.3" y="232">2</tspan><tspan x="1385.1" y="212">C</tspan><tspan font-size="30" x="1422" y="232">3</tspan></text>
</g>
</g>
</svg></body></html>
